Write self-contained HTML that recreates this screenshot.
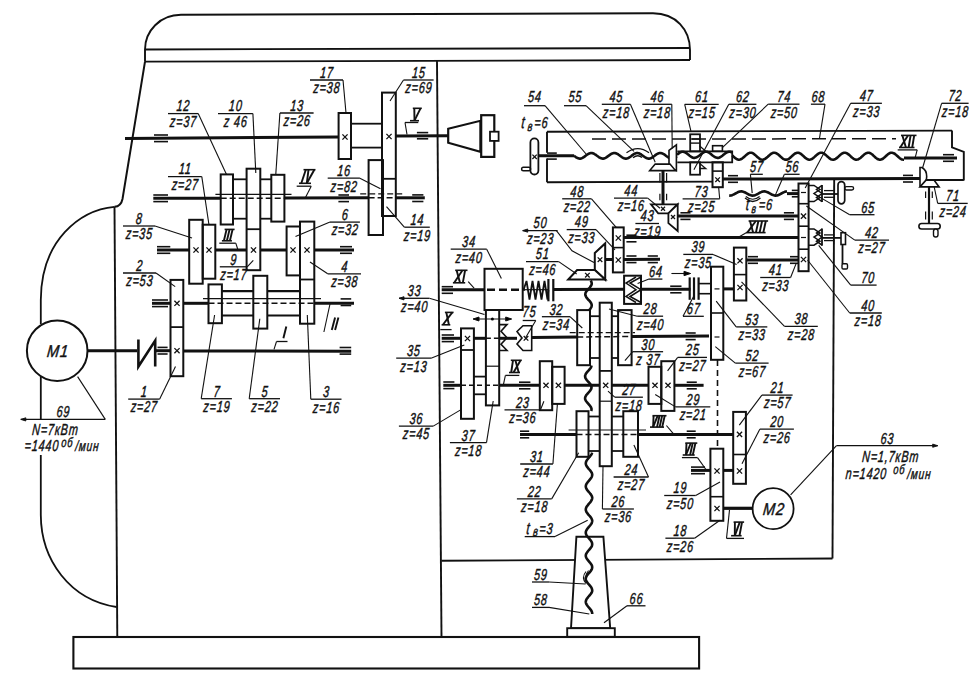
<!DOCTYPE html>
<html><head><meta charset="utf-8"><style>
html,body{margin:0;padding:0;background:#fff;}
svg{display:block;}
.t{font-family:"Liberation Sans",sans-serif;font-style:italic;fill:#111;stroke:#111;stroke-width:0.45px;letter-spacing:1.2px;}
.r{font-family:"Liberation Sans",sans-serif;font-style:italic;fill:#111;stroke:#111;stroke-width:0.45px;letter-spacing:1.2px;}
</style></head><body>
<svg width="978" height="676" viewBox="0 0 978 676">
<g stroke="#111" fill="none" stroke-linecap="butt">
<path d="M145,61.7 L145,49.5 C145,31 160,14.8 181,14.8 L653,13.3 C676,13.3 690,30 690,50 L690,60" stroke-width="1.9" fill="none"/>
<line x1="145" y1="49.5" x2="690" y2="48" stroke-width="1.8"/>
<line x1="145" y1="61.7" x2="690" y2="60" stroke-width="1.8"/>
<path d="M145,61.7 L122.5,199 C121.5,204 119,206.5 114.5,206.8" stroke-width="2.0" fill="none"/>
<line x1="114.5" y1="206.8" x2="117.3" y2="637" stroke-width="1.9"/>
<path d="M114.5,206.8 C80,210 41,240 40.8,300" stroke-width="1.8" fill="none"/>
<line x1="40.8" y1="300" x2="40.8" y2="324" stroke-width="1.8"/>
<line x1="40.8" y1="377" x2="40.8" y2="419.4" stroke-width="1.8"/>
<line x1="40.8" y1="455" x2="40.8" y2="515" stroke-width="1.8"/>
<path d="M40.8,515 C41,560 70,600 116.6,607" stroke-width="1.8" fill="none"/>
<line x1="437" y1="61" x2="441.5" y2="637" stroke-width="1.9"/>
<rect x="73.4" y="637" width="625.7" height="31.5" stroke-width="2.1" fill="none"/>
<line x1="441.5" y1="560.8" x2="832.5" y2="558.5" stroke-width="1.9"/>
<line x1="834.2" y1="178.5" x2="832.5" y2="558.5" stroke-width="1.9"/>
<line x1="547" y1="131.8" x2="952" y2="130.6" stroke-width="1.9"/>
<polyline points="952,130.6 952,147.3 963.8,151.9 963.8,180.5" stroke-width="1.9" fill="none"/>
<line x1="547" y1="182.2" x2="713" y2="181.6" stroke-width="1.9"/>
<line x1="926" y1="180" x2="963.8" y2="180" stroke-width="1.9"/>
<line x1="547" y1="131.8" x2="547" y2="152.8" stroke-width="1.9"/>
<line x1="547" y1="158.5" x2="547" y2="182.2" stroke-width="1.9"/>
<line x1="125" y1="138.4" x2="338.6" y2="137" stroke-width="3.0"/>
<line x1="395.8" y1="136" x2="448.2" y2="135.7" stroke-width="3.0"/>
<line x1="154" y1="135" x2="168" y2="135" stroke-width="1.6"/>
<line x1="154" y1="141.6" x2="168" y2="141.6" stroke-width="1.6"/>
<line x1="416.9" y1="132.6" x2="428.2" y2="132.6" stroke-width="1.6"/>
<line x1="416.9" y1="138.8" x2="428.2" y2="138.8" stroke-width="1.6"/>
<polygon points="448.2,128.8 480.4,120.8 480.4,151.7 448.2,142.7" stroke-width="2.2" fill="#fff"/>
<rect x="481.2" y="115.2" width="13.1" height="41.7" stroke-width="2.2" fill="none"/>
<rect x="490" y="131.7" width="8.6" height="9.2" stroke-width="1.8" fill="#fff"/>
<line x1="351" y1="123.7" x2="382" y2="123.7" stroke-width="1.8"/>
<line x1="351" y1="147.6" x2="382" y2="147.6" stroke-width="1.8"/>
<rect x="338.6" y="113" width="12.4" height="46" stroke-width="2.0" fill="none"/>
<line x1="342.4" y1="134.4" x2="347.6" y2="139.6" stroke-width="1.3"/>
<line x1="342.4" y1="139.6" x2="347.6" y2="134.4" stroke-width="1.3"/>
<rect x="368.6" y="160.1" width="14.4" height="74.9" stroke-width="2.0" fill="none"/>
<rect x="382" y="92.6" width="13.8" height="123.4" stroke-width="2.0" fill="none"/>
<line x1="382" y1="178.8" x2="395.8" y2="178.8" stroke-width="1.8"/>
<line x1="386.4" y1="133.9" x2="391.6" y2="139.1" stroke-width="1.3"/>
<line x1="386.4" y1="139.1" x2="391.6" y2="133.9" stroke-width="1.3"/>
<line x1="153.3" y1="198.3" x2="220.7" y2="198.3" stroke-width="3.0"/>
<line x1="220.7" y1="198.3" x2="284.4" y2="198.3" stroke-width="1.6" stroke-dasharray="6,3"/>
<line x1="284.4" y1="198" x2="368.6" y2="197.8" stroke-width="3.0"/>
<line x1="368.6" y1="197.8" x2="395.8" y2="197.8" stroke-width="1.6" stroke-dasharray="6,3"/>
<line x1="395.8" y1="197.8" x2="424.8" y2="197.8" stroke-width="3.0"/>
<line x1="153.3" y1="195" x2="168" y2="195" stroke-width="1.6"/>
<line x1="153.3" y1="201.6" x2="168" y2="201.6" stroke-width="1.6"/>
<line x1="338.4" y1="195" x2="349" y2="195" stroke-width="1.6"/>
<line x1="338.4" y1="201.6" x2="349" y2="201.6" stroke-width="1.6"/>
<line x1="412.2" y1="194.9" x2="423.4" y2="194.9" stroke-width="1.6"/>
<line x1="412.2" y1="201.5" x2="423.4" y2="201.5" stroke-width="1.6"/>
<line x1="215.4" y1="194.4" x2="291.5" y2="194.4" stroke-width="1.1"/>
<line x1="360.2" y1="193.8" x2="403.8" y2="193.8" stroke-width="1.3" stroke-dasharray="6,3"/>
<line x1="233" y1="179.3" x2="246.6" y2="179.3" stroke-width="1.8"/>
<line x1="233" y1="218.7" x2="246.6" y2="218.7" stroke-width="1.8"/>
<line x1="260.3" y1="179.3" x2="271.3" y2="179.3" stroke-width="1.8"/>
<line x1="260.3" y1="218.7" x2="271.3" y2="218.7" stroke-width="1.8"/>
<rect x="220.7" y="174.4" width="12.3" height="50.1" stroke-width="2.0" fill="none"/>
<rect x="271.3" y="174.8" width="13.1" height="46.8" stroke-width="2.0" fill="none"/>
<line x1="157" y1="250" x2="189.2" y2="250" stroke-width="3.0"/>
<line x1="215.3" y1="250" x2="246.6" y2="250" stroke-width="3.0"/>
<line x1="260.3" y1="250" x2="286.6" y2="250" stroke-width="3.0"/>
<line x1="314.3" y1="250" x2="354" y2="250" stroke-width="3.0"/>
<line x1="157" y1="246.7" x2="170.3" y2="246.7" stroke-width="1.6"/>
<line x1="157" y1="253.3" x2="170.3" y2="253.3" stroke-width="1.6"/>
<line x1="340" y1="246.7" x2="352" y2="246.7" stroke-width="1.6"/>
<line x1="340" y1="253.3" x2="352" y2="253.3" stroke-width="1.6"/>
<rect x="246.6" y="168.7" width="13.7" height="101.5" stroke-width="2.0" fill="none"/>
<line x1="246.6" y1="229.2" x2="260.3" y2="229.2" stroke-width="1.8"/>
<line x1="250.9" y1="247.4" x2="256.1" y2="252.6" stroke-width="1.3"/>
<line x1="250.9" y1="252.6" x2="256.1" y2="247.4" stroke-width="1.3"/>
<rect x="189.2" y="219.8" width="13.5" height="63.9" stroke-width="2.0" fill="none"/>
<line x1="193.4" y1="247.4" x2="198.6" y2="252.6" stroke-width="1.3"/>
<line x1="193.4" y1="252.6" x2="198.6" y2="247.4" stroke-width="1.3"/>
<rect x="202.7" y="224.7" width="12.6" height="54" stroke-width="2.0" fill="none"/>
<line x1="206.4" y1="247.4" x2="211.6" y2="252.6" stroke-width="1.3"/>
<line x1="206.4" y1="252.6" x2="211.6" y2="247.4" stroke-width="1.3"/>
<rect x="286.6" y="226.5" width="13.4" height="48.9" stroke-width="2.0" fill="none"/>
<line x1="290.4" y1="247.4" x2="295.6" y2="252.6" stroke-width="1.3"/>
<line x1="290.4" y1="252.6" x2="295.6" y2="247.4" stroke-width="1.3"/>
<line x1="152" y1="303.3" x2="170.5" y2="303.3" stroke-width="3.0"/>
<line x1="183.3" y1="303.3" x2="208.5" y2="303.3" stroke-width="3.0"/>
<line x1="208.5" y1="303.3" x2="314.3" y2="303.3" stroke-width="1.5" stroke-dasharray="6,3"/>
<line x1="314.3" y1="303.3" x2="354" y2="303.3" stroke-width="3.0"/>
<line x1="152" y1="300" x2="168" y2="300" stroke-width="1.6"/>
<line x1="152" y1="306.6" x2="168" y2="306.6" stroke-width="1.6"/>
<line x1="340.6" y1="298.9" x2="351.2" y2="298.9" stroke-width="1.6"/>
<line x1="340.6" y1="305.5" x2="351.2" y2="305.5" stroke-width="1.6"/>
<line x1="203" y1="298.6" x2="321" y2="298.6" stroke-width="1.1"/>
<line x1="221.9" y1="291.1" x2="253.3" y2="291.1" stroke-width="2.4"/>
<line x1="221.9" y1="315.5" x2="253.3" y2="315.5" stroke-width="1.8"/>
<line x1="267.3" y1="291.1" x2="300" y2="291.1" stroke-width="2.4"/>
<line x1="267.3" y1="315.5" x2="300" y2="315.5" stroke-width="1.8"/>
<rect x="208.5" y="284.4" width="13.4" height="38.8" stroke-width="2.0" fill="none"/>
<rect x="253.3" y="275.8" width="14" height="52.8" stroke-width="2.0" fill="none"/>
<rect x="300" y="221.6" width="14.3" height="102.1" stroke-width="2.0" fill="none"/>
<line x1="300" y1="279.5" x2="314.3" y2="279.5" stroke-width="1.8"/>
<line x1="304.4" y1="247.4" x2="309.6" y2="252.6" stroke-width="1.3"/>
<line x1="304.4" y1="252.6" x2="309.6" y2="247.4" stroke-width="1.3"/>
<line x1="87.5" y1="350.7" x2="137" y2="350.7" stroke-width="3.0"/>
<polyline points="138.4,339.5 138.4,366.5 155.2,340.6 155.2,366.5" stroke-width="2.6" fill="none"/>
<line x1="155.2" y1="350.7" x2="170.5" y2="350.7" stroke-width="3.0"/>
<line x1="157.5" y1="347.4" x2="167.6" y2="347.4" stroke-width="1.6"/>
<line x1="157.5" y1="354" x2="167.6" y2="354" stroke-width="1.6"/>
<line x1="183.4" y1="350.9" x2="351.2" y2="351.2" stroke-width="3.0"/>
<line x1="339.6" y1="347.5" x2="351.2" y2="347.5" stroke-width="1.6"/>
<line x1="339.6" y1="354.1" x2="351.2" y2="354.1" stroke-width="1.6"/>
<rect x="170.5" y="279.9" width="12.8" height="96.3" stroke-width="2.0" fill="none"/>
<line x1="170.5" y1="327.1" x2="183.3" y2="327.1" stroke-width="1.8"/>
<line x1="174.4" y1="300.7" x2="179.6" y2="305.9" stroke-width="1.3"/>
<line x1="174.4" y1="305.9" x2="179.6" y2="300.7" stroke-width="1.3"/>
<line x1="174.4" y1="348.1" x2="179.6" y2="353.3" stroke-width="1.3"/>
<line x1="174.4" y1="353.3" x2="179.6" y2="348.1" stroke-width="1.3"/>
<circle cx="57.2" cy="350.7" r="30.3" stroke-width="2" fill="none"/>
<text class="t" transform="translate(57.5,356.5) scale(0.85,1) skewX(-7)" font-size="17.099999999999998" text-anchor="middle">M1</text>
<line x1="168" y1="113.6" x2="198.2" y2="113.6" stroke-width="1.3"/>
<text class="t" transform="translate(183.1,111.4) scale(0.68,1) skewX(-7)" font-size="15.959999999999999" text-anchor="middle">12</text>
<text class="t" transform="translate(183.1,126.9) scale(0.68,1) skewX(-7)" font-size="15.959999999999999" text-anchor="middle">z=37</text>
<polyline points="198.2,113.6 226.5,174.4" stroke-width="1.1" fill="none"/>
<line x1="218" y1="113.6" x2="252.9" y2="113.6" stroke-width="1.3"/>
<text class="t" transform="translate(235.4,111.4) scale(0.68,1) skewX(-7)" font-size="15.959999999999999" text-anchor="middle">10</text>
<text class="t" transform="translate(235.4,126.9) scale(0.68,1) skewX(-7)" font-size="15.959999999999999" text-anchor="middle">z 46</text>
<polyline points="252.9,113.6 255.8,173" stroke-width="1.1" fill="none"/>
<line x1="279.9" y1="113" x2="313.6" y2="113" stroke-width="1.3"/>
<text class="t" transform="translate(296.8,110.8) scale(0.68,1) skewX(-7)" font-size="15.959999999999999" text-anchor="middle">13</text>
<text class="t" transform="translate(296.8,126.3) scale(0.68,1) skewX(-7)" font-size="15.959999999999999" text-anchor="middle">z=26</text>
<polyline points="279.9,113 275.8,174.4" stroke-width="1.1" fill="none"/>
<line x1="310" y1="80" x2="343" y2="80" stroke-width="1.3"/>
<text class="t" transform="translate(326.5,77.8) scale(0.68,1) skewX(-7)" font-size="15.959999999999999" text-anchor="middle">17</text>
<text class="t" transform="translate(326.5,93.3) scale(0.68,1) skewX(-7)" font-size="15.959999999999999" text-anchor="middle">z=38</text>
<polyline points="343,80 346,113" stroke-width="1.1" fill="none"/>
<line x1="403.5" y1="80" x2="433.6" y2="80" stroke-width="1.3"/>
<text class="t" transform="translate(418.6,77.8) scale(0.68,1) skewX(-7)" font-size="15.959999999999999" text-anchor="middle">15</text>
<text class="t" transform="translate(418.6,93.3) scale(0.68,1) skewX(-7)" font-size="15.959999999999999" text-anchor="middle">z=69</text>
<polyline points="403.5,80 390,101" stroke-width="1.1" fill="none"/>
<line x1="168" y1="176.6" x2="201.8" y2="176.6" stroke-width="1.3"/>
<text class="t" transform="translate(184.9,174.4) scale(0.68,1) skewX(-7)" font-size="15.959999999999999" text-anchor="middle">11</text>
<text class="t" transform="translate(184.9,189.9) scale(0.68,1) skewX(-7)" font-size="15.959999999999999" text-anchor="middle">z=27</text>
<polyline points="201.8,176.6 209,225" stroke-width="1.1" fill="none"/>
<line x1="123" y1="226" x2="155" y2="226" stroke-width="1.3"/>
<text class="t" transform="translate(139,223.8) scale(0.68,1) skewX(-7)" font-size="15.959999999999999" text-anchor="middle">8</text>
<text class="t" transform="translate(139,239.3) scale(0.68,1) skewX(-7)" font-size="15.959999999999999" text-anchor="middle">z=35</text>
<polyline points="155,226 192,238" stroke-width="1.1" fill="none"/>
<line x1="123" y1="273" x2="156" y2="273" stroke-width="1.3"/>
<text class="t" transform="translate(139.5,270.8) scale(0.68,1) skewX(-7)" font-size="15.959999999999999" text-anchor="middle">2</text>
<text class="t" transform="translate(139.5,286.3) scale(0.68,1) skewX(-7)" font-size="15.959999999999999" text-anchor="middle">z=53</text>
<polyline points="156,273 175.2,286.6" stroke-width="1.1" fill="none"/>
<line x1="327.7" y1="178.2" x2="359.9" y2="178.2" stroke-width="1.3"/>
<text class="t" transform="translate(343.8,176) scale(0.68,1) skewX(-7)" font-size="15.959999999999999" text-anchor="middle">16</text>
<text class="t" transform="translate(343.8,191.5) scale(0.68,1) skewX(-7)" font-size="15.959999999999999" text-anchor="middle">z=82</text>
<polyline points="359.9,178.2 380.5,188.8" stroke-width="1.1" fill="none"/>
<line x1="404.3" y1="227.2" x2="429.8" y2="227.2" stroke-width="1.3"/>
<text class="t" transform="translate(417.1,225) scale(0.68,1) skewX(-7)" font-size="15.959999999999999" text-anchor="middle">14</text>
<text class="t" transform="translate(417.1,240.5) scale(0.68,1) skewX(-7)" font-size="15.959999999999999" text-anchor="middle">z=19</text>
<polyline points="404.3,227.2 386.5,206.6" stroke-width="1.1" fill="none"/>
<line x1="330" y1="222.1" x2="359.9" y2="222.1" stroke-width="1.3"/>
<text class="t" transform="translate(344.9,219.9) scale(0.68,1) skewX(-7)" font-size="15.959999999999999" text-anchor="middle">6</text>
<text class="t" transform="translate(344.9,235.4) scale(0.68,1) skewX(-7)" font-size="15.959999999999999" text-anchor="middle">z=32</text>
<polyline points="330,222.1 295.5,236.6" stroke-width="1.1" fill="none"/>
<line x1="327.7" y1="273.8" x2="361" y2="273.8" stroke-width="1.3"/>
<text class="t" transform="translate(344.4,271.6) scale(0.68,1) skewX(-7)" font-size="15.959999999999999" text-anchor="middle">4</text>
<text class="t" transform="translate(344.4,287.1) scale(0.68,1) skewX(-7)" font-size="15.959999999999999" text-anchor="middle">z=38</text>
<polyline points="327.7,273.8 310,262" stroke-width="1.1" fill="none"/>
<line x1="219.8" y1="266.8" x2="247.2" y2="266.8" stroke-width="1.3"/>
<text class="t" transform="translate(233.5,264.6) scale(0.68,1) skewX(-7)" font-size="15.959999999999999" text-anchor="middle">9</text>
<text class="t" transform="translate(233.5,280.1) scale(0.68,1) skewX(-7)" font-size="15.959999999999999" text-anchor="middle">z=17</text>
<polyline points="247.2,266.8 253.3,260.3" stroke-width="1.1" fill="none"/>
<line x1="128.2" y1="399.1" x2="159.7" y2="399.1" stroke-width="1.3"/>
<text class="t" transform="translate(143.9,396.9) scale(0.68,1) skewX(-7)" font-size="15.959999999999999" text-anchor="middle">1</text>
<text class="t" transform="translate(143.9,412.4) scale(0.68,1) skewX(-7)" font-size="15.959999999999999" text-anchor="middle">z=27</text>
<polyline points="159.7,399.1 175.5,366.5" stroke-width="1.1" fill="none"/>
<line x1="201.2" y1="398.7" x2="231.9" y2="398.7" stroke-width="1.3"/>
<text class="t" transform="translate(216.6,396.5) scale(0.68,1) skewX(-7)" font-size="15.959999999999999" text-anchor="middle">7</text>
<text class="t" transform="translate(216.6,412) scale(0.68,1) skewX(-7)" font-size="15.959999999999999" text-anchor="middle">z=19</text>
<polyline points="201.2,398.7 214.6,315" stroke-width="1.1" fill="none"/>
<line x1="249.2" y1="398.7" x2="280" y2="398.7" stroke-width="1.3"/>
<text class="t" transform="translate(264.6,396.5) scale(0.68,1) skewX(-7)" font-size="15.959999999999999" text-anchor="middle">5</text>
<text class="t" transform="translate(264.6,412) scale(0.68,1) skewX(-7)" font-size="15.959999999999999" text-anchor="middle">z=22</text>
<polyline points="249.2,398.7 259.8,318.8" stroke-width="1.1" fill="none"/>
<line x1="310.8" y1="399.2" x2="341.5" y2="399.2" stroke-width="1.3"/>
<text class="t" transform="translate(326.1,397) scale(0.68,1) skewX(-7)" font-size="15.959999999999999" text-anchor="middle">3</text>
<text class="t" transform="translate(326.1,412.5) scale(0.68,1) skewX(-7)" font-size="15.959999999999999" text-anchor="middle">z=16</text>
<polyline points="310.8,399.2 307.3,315" stroke-width="1.1" fill="none"/>
<line x1="20.8" y1="419.4" x2="105.3" y2="419.4" stroke-width="1.3"/>
<text class="t" transform="translate(63,417.2) scale(0.68,1) skewX(-7)" font-size="15.959999999999999" text-anchor="middle">69</text>
<polyline points="105.3,419.4 77.6,376.6" stroke-width="1.1" fill="none"/>
<polygon points="25.8,417.8 20.8,419.4 25.8,421" stroke-width="0.9" fill="#111"/>
<text class="t" transform="translate(55,434.5) scale(0.68,1) skewX(-7)" font-size="15.959999999999999" text-anchor="middle">N=7кВт</text>
<text class="t" transform="translate(41.5,451) scale(0.68,1) skewX(-7)" font-size="15.959999999999999" text-anchor="middle">=1440</text>
<text class="t" transform="translate(67,446.5) scale(0.68,1) skewX(-7)" font-size="13.68" text-anchor="middle">об</text>
<text class="t" transform="translate(87,451) scale(0.68,1) skewX(-7)" font-size="14.819999999999999" text-anchor="middle">/мин</text>
<line x1="414.3" y1="108.3" x2="414.5" y2="120.7" stroke-width="1.9"/>
<line x1="420.5" y1="108.3" x2="414.5" y2="120.7" stroke-width="1.9"/>
<line x1="412.8" y1="108.3" x2="421.8" y2="108.3" stroke-width="1.6"/>
<line x1="410" y1="120.7" x2="419" y2="120.7" stroke-width="1.6"/>
<line x1="405" y1="122.5" x2="418.3" y2="122.5" stroke-width="1.3"/>
<polyline points="405,122.5 407,134.5" stroke-width="1.1" fill="none"/>
<line x1="305.8" y1="169.7" x2="301.3" y2="183.3" stroke-width="1.9"/>
<line x1="308.5" y1="169.7" x2="306.8" y2="183.3" stroke-width="1.9"/>
<line x1="314.3" y1="169.7" x2="306.8" y2="183.3" stroke-width="1.9"/>
<line x1="303.5" y1="169.7" x2="315.5" y2="169.7" stroke-width="1.6"/>
<line x1="299" y1="183.3" x2="311" y2="183.3" stroke-width="1.6"/>
<line x1="296.7" y1="186.2" x2="311.2" y2="186.2" stroke-width="1.3"/>
<polyline points="311.2,186.2 305.5,197.6" stroke-width="1.1" fill="none"/>
<line x1="226.6" y1="229.4" x2="223.9" y2="240.8" stroke-width="1.9"/>
<line x1="229.6" y1="229.4" x2="226.9" y2="240.8" stroke-width="1.9"/>
<line x1="232.6" y1="229.4" x2="229.9" y2="240.8" stroke-width="1.9"/>
<line x1="224.6" y1="229.4" x2="234.6" y2="229.4" stroke-width="1.6"/>
<line x1="221.9" y1="240.8" x2="231.9" y2="240.8" stroke-width="1.6"/>
<line x1="219.3" y1="243.2" x2="235.8" y2="243.2" stroke-width="1.3"/>
<polyline points="235.8,243.2 238,250" stroke-width="1.1" fill="none"/>
<line x1="335.1" y1="317.6" x2="331.8" y2="330" stroke-width="1.9"/>
<line x1="338.4" y1="317.6" x2="335.1" y2="330" stroke-width="1.9"/>
<polyline points="330,304 323.9,332" stroke-width="1.1" fill="none"/>
<line x1="286.3" y1="326.4" x2="283.4" y2="338.2" stroke-width="1.9"/>
<line x1="276.5" y1="341.5" x2="287.5" y2="341.5" stroke-width="1.3"/>
<polyline points="276.5,341.5 274,349.3" stroke-width="1.1" fill="none"/>
<line x1="441.7" y1="289.7" x2="484.5" y2="289.7" stroke-width="3.0"/>
<line x1="441.7" y1="286.7" x2="453" y2="286.7" stroke-width="1.6"/>
<line x1="441.7" y1="293.3" x2="453" y2="293.3" stroke-width="1.6"/>
<line x1="487" y1="289.7" x2="522.7" y2="289.7" stroke-width="2.4" stroke-dasharray="8,4"/>
<line x1="522.7" y1="289.7" x2="525" y2="289.7" stroke-width="2.2"/>
<polyline points="523.5,290 526.5,281 529.5,299.5 532.5,281 535.5,299.5 538.5,281 541.5,299.5 544.5,281 547.5,299.5 548.4,290" stroke-width="1.8" fill="none"/>
<line x1="525" y1="289.7" x2="548" y2="289.7" stroke-width="1.2"/>
<line x1="548.4" y1="279" x2="548.4" y2="301.3" stroke-width="2.2"/>
<line x1="553.3" y1="279" x2="553.3" y2="301.3" stroke-width="2.2"/>
<line x1="553.1" y1="289.5" x2="624.1" y2="289.3" stroke-width="3.0"/>
<line x1="641" y1="289.3" x2="690.5" y2="289.2" stroke-width="3.0"/>
<line x1="670.2" y1="286.2" x2="681.5" y2="286.2" stroke-width="1.6"/>
<line x1="670.2" y1="292.8" x2="681.5" y2="292.8" stroke-width="1.6"/>
<line x1="689.7" y1="277.4" x2="689.7" y2="299.8" stroke-width="2.2"/>
<line x1="694" y1="277.4" x2="694" y2="299.8" stroke-width="2.2"/>
<line x1="698.6" y1="277.4" x2="698.6" y2="299.8" stroke-width="2.2"/>
<line x1="698.4" y1="283.6" x2="711.2" y2="283.6" stroke-width="1.6"/>
<line x1="698.4" y1="293.7" x2="711.2" y2="293.7" stroke-width="1.6"/>
<rect x="484.5" y="268.8" width="38.2" height="41.2" stroke-width="2.0" fill="none"/>
<line x1="456.6" y1="270.3" x2="460" y2="282.8" stroke-width="1.9"/>
<line x1="462.5" y1="270.3" x2="454.2" y2="282.8" stroke-width="1.9"/>
<line x1="465.1" y1="270.3" x2="462.8" y2="282.8" stroke-width="1.9"/>
<line x1="455.2" y1="270.3" x2="467.5" y2="270.3" stroke-width="1.6"/>
<line x1="452.9" y1="282.8" x2="465.2" y2="282.8" stroke-width="1.6"/>
<polyline points="468.2,281.6 474.1,288.1" stroke-width="1.1" fill="none"/>
<line x1="450.7" y1="249.2" x2="486.7" y2="249.2" stroke-width="1.3"/>
<text class="t" transform="translate(468.7,247) scale(0.68,1) skewX(-7)" font-size="15.959999999999999" text-anchor="middle">34</text>
<text class="t" transform="translate(468.7,262.5) scale(0.68,1) skewX(-7)" font-size="15.959999999999999" text-anchor="middle">z=40</text>
<polyline points="486.7,249.2 501.4,278.5" stroke-width="1.1" fill="none"/>
<line x1="399" y1="298.3" x2="429.4" y2="298.3" stroke-width="1.3"/>
<text class="t" transform="translate(414.2,296.1) scale(0.68,1) skewX(-7)" font-size="15.959999999999999" text-anchor="middle">33</text>
<text class="t" transform="translate(414.2,311.6) scale(0.68,1) skewX(-7)" font-size="15.959999999999999" text-anchor="middle">z=40</text>
<polyline points="429.4,298.3 484.5,314.5" stroke-width="1.1" fill="none"/>
<polygon points="404,296.7 399,298.3 404,299.9" stroke-width="0.9" fill="#111"/>
<rect x="485.9" y="310" width="13.3" height="95.4" stroke-width="2.0" fill="none"/>
<line x1="485.9" y1="366.2" x2="499.2" y2="366.2" stroke-width="1.2"/>
<line x1="473.2" y1="319" x2="511.5" y2="319" stroke-width="1.1"/>
<polygon points="479,317 473.2,319 479,321" stroke-width="1" fill="#000"/>
<polygon points="505.7,317 511.5,319 505.7,321" stroke-width="1" fill="#000"/>
<circle cx="492.4" cy="319" r="1.5" fill="#000" stroke="none"/>
<line x1="446.3" y1="312.4" x2="448.9" y2="324.8" stroke-width="1.9"/>
<line x1="452.3" y1="312.4" x2="442.9" y2="324.8" stroke-width="1.9"/>
<line x1="444.9" y1="312.4" x2="453.6" y2="312.4" stroke-width="1.6"/>
<line x1="441.6" y1="324.8" x2="450.3" y2="324.8" stroke-width="1.6"/>
<line x1="440.3" y1="329.6" x2="451.6" y2="329.6" stroke-width="1.3"/>
<line x1="441.7" y1="338.3" x2="461" y2="338.3" stroke-width="3.0"/>
<line x1="441.7" y1="335" x2="454" y2="335" stroke-width="1.6"/>
<line x1="441.7" y1="341.6" x2="454" y2="341.6" stroke-width="1.6"/>
<line x1="473.9" y1="338.3" x2="485.9" y2="338.3" stroke-width="3.0"/>
<line x1="485.9" y1="338.3" x2="499.2" y2="338.3" stroke-width="1.5" stroke-dasharray="5,3"/>
<line x1="499.2" y1="338.3" x2="517" y2="338.3" stroke-width="3.0"/>
<line x1="531.7" y1="337.5" x2="577.2" y2="337" stroke-width="3.0"/>
<line x1="577.2" y1="337" x2="631.6" y2="336.5" stroke-width="1.5" stroke-dasharray="6,3"/>
<line x1="631.6" y1="336.5" x2="709" y2="336" stroke-width="3.0"/>
<line x1="685.6" y1="333" x2="695.7" y2="333" stroke-width="1.6"/>
<line x1="685.6" y1="339.6" x2="695.7" y2="339.6" stroke-width="1.6"/>
<rect x="461" y="328.4" width="12.9" height="90.4" stroke-width="2.0" fill="none"/>
<line x1="461" y1="350" x2="473.9" y2="350" stroke-width="1.8"/>
<line x1="464.9" y1="335.9" x2="470.1" y2="341.1" stroke-width="1.3"/>
<line x1="464.9" y1="341.1" x2="470.1" y2="335.9" stroke-width="1.3"/>
<polyline points="499.2,324.6 507,324.6 501,331.2 507,337.8 501,344.3 507,350.5 499.2,350.5" stroke-width="1.6" fill="none"/>
<polygon points="523,325.7 531.7,325.7 531.7,350.5 523,350.5 517,344 522,338 517,331.5" stroke-width="1.6" fill="#fff"/>
<line x1="523.7" y1="336" x2="528.3" y2="340.6" stroke-width="1.3"/>
<line x1="523.7" y1="340.6" x2="528.3" y2="336" stroke-width="1.3"/>
<line x1="522.7" y1="320.5" x2="535.8" y2="320.5" stroke-width="1.3"/>
<text class="t" transform="translate(529.2,317) scale(0.68,1) skewX(-7)" font-size="15.959999999999999" text-anchor="middle">75</text>
<polyline points="535.8,320.5 526,337" stroke-width="1.1" fill="none"/>
<line x1="541.9" y1="316.7" x2="570" y2="316.7" stroke-width="1.3"/>
<text class="t" transform="translate(556,314.5) scale(0.68,1) skewX(-7)" font-size="15.959999999999999" text-anchor="middle">32</text>
<text class="t" transform="translate(556,330) scale(0.68,1) skewX(-7)" font-size="15.959999999999999" text-anchor="middle">z=34</text>
<polyline points="570,316.7 582.3,328" stroke-width="1.1" fill="none"/>
<line x1="569.7" y1="332.6" x2="635" y2="332.6" stroke-width="1.1" stroke-dasharray="6,3"/>
<line x1="590" y1="316.2" x2="599.7" y2="316.2" stroke-width="1.8"/>
<line x1="590" y1="358" x2="599.7" y2="358" stroke-width="1.8"/>
<line x1="611.8" y1="316.2" x2="618.1" y2="316.2" stroke-width="1.8"/>
<line x1="611.8" y1="358" x2="618.1" y2="358" stroke-width="1.8"/>
<rect x="577.2" y="310.1" width="12.8" height="55.1" stroke-width="2.0" fill="none"/>
<rect x="618.1" y="310.1" width="13.5" height="55.1" stroke-width="2.0" fill="none"/>
<line x1="637.2" y1="316.2" x2="663.1" y2="316.2" stroke-width="1.3"/>
<text class="t" transform="translate(650.2,314) scale(0.68,1) skewX(-7)" font-size="15.959999999999999" text-anchor="middle">28</text>
<text class="t" transform="translate(650.2,329.5) scale(0.68,1) skewX(-7)" font-size="15.959999999999999" text-anchor="middle">z=40</text>
<polyline points="637.2,316.2 609,309" stroke-width="1.1" fill="none"/>
<line x1="632.7" y1="351.7" x2="663.1" y2="351.7" stroke-width="1.3"/>
<text class="t" transform="translate(647.9,349.5) scale(0.68,1) skewX(-7)" font-size="15.959999999999999" text-anchor="middle">30</text>
<text class="t" transform="translate(647.9,365) scale(0.68,1) skewX(-7)" font-size="15.959999999999999" text-anchor="middle">z 37</text>
<polyline points="632.7,351.7 624.9,360.7" stroke-width="1.1" fill="none"/>
<line x1="443.3" y1="385.3" x2="461" y2="385.3" stroke-width="3.0"/>
<line x1="461" y1="385.3" x2="499.2" y2="385.3" stroke-width="1.5" stroke-dasharray="5,3"/>
<line x1="443.3" y1="382" x2="454.4" y2="382" stroke-width="1.6"/>
<line x1="443.3" y1="388.6" x2="454.4" y2="388.6" stroke-width="1.6"/>
<line x1="473.9" y1="376.6" x2="485.9" y2="376.6" stroke-width="1.8"/>
<line x1="473.9" y1="394.3" x2="485.9" y2="394.3" stroke-width="1.8"/>
<line x1="499.2" y1="385.3" x2="539.8" y2="385.3" stroke-width="3.0"/>
<line x1="564.6" y1="385.3" x2="599.7" y2="385.3" stroke-width="3.0"/>
<line x1="611.8" y1="385.3" x2="648.5" y2="385.3" stroke-width="3.0"/>
<line x1="674.4" y1="385.3" x2="703.6" y2="385.3" stroke-width="3.0"/>
<line x1="519" y1="382.2" x2="530.4" y2="382.2" stroke-width="1.6"/>
<line x1="519" y1="388.8" x2="530.4" y2="388.8" stroke-width="1.6"/>
<line x1="686.7" y1="382.2" x2="696.8" y2="382.2" stroke-width="1.6"/>
<line x1="686.7" y1="388.8" x2="696.8" y2="388.8" stroke-width="1.6"/>
<rect x="539.8" y="361.2" width="12.4" height="49" stroke-width="2.0" fill="none"/>
<line x1="543.4" y1="382.7" x2="548.6" y2="387.9" stroke-width="1.3"/>
<line x1="543.4" y1="387.9" x2="548.6" y2="382.7" stroke-width="1.3"/>
<rect x="552.2" y="366.8" width="12.4" height="37.1" stroke-width="2.0" fill="none"/>
<line x1="555.8" y1="382.7" x2="561" y2="387.9" stroke-width="1.3"/>
<line x1="555.8" y1="387.9" x2="561" y2="382.7" stroke-width="1.3"/>
<rect x="648.5" y="366.8" width="12.8" height="37.1" stroke-width="2.0" fill="none"/>
<line x1="652.4" y1="382.7" x2="657.6" y2="387.9" stroke-width="1.3"/>
<line x1="652.4" y1="387.9" x2="657.6" y2="382.7" stroke-width="1.3"/>
<rect x="661.3" y="361.2" width="13.1" height="49.7" stroke-width="2.0" fill="none"/>
<line x1="665.4" y1="382.7" x2="670.6" y2="387.9" stroke-width="1.3"/>
<line x1="665.4" y1="387.9" x2="670.6" y2="382.7" stroke-width="1.3"/>
<line x1="513" y1="360.3" x2="511.2" y2="372.5" stroke-width="1.9"/>
<line x1="515.4" y1="360.3" x2="518.7" y2="372.5" stroke-width="1.9"/>
<line x1="520.6" y1="360.3" x2="513.5" y2="372.5" stroke-width="1.9"/>
<line x1="510.8" y1="360.3" x2="521.8" y2="360.3" stroke-width="1.6"/>
<line x1="509" y1="372.5" x2="520" y2="372.5" stroke-width="1.6"/>
<line x1="505.4" y1="375.4" x2="519.3" y2="375.4" stroke-width="1.3"/>
<polyline points="505.4,375.4 503.3,385.2" stroke-width="1.1" fill="none"/>
<line x1="396.2" y1="358.2" x2="431" y2="358.2" stroke-width="1.3"/>
<text class="t" transform="translate(413.6,356) scale(0.68,1) skewX(-7)" font-size="15.959999999999999" text-anchor="middle">35</text>
<text class="t" transform="translate(413.6,371.5) scale(0.68,1) skewX(-7)" font-size="15.959999999999999" text-anchor="middle">z=13</text>
<polyline points="431,358.2 464.3,344.9" stroke-width="1.1" fill="none"/>
<line x1="398.9" y1="426.1" x2="433.3" y2="426.1" stroke-width="1.3"/>
<text class="t" transform="translate(416.1,423.9) scale(0.68,1) skewX(-7)" font-size="15.959999999999999" text-anchor="middle">36</text>
<text class="t" transform="translate(416.1,439.4) scale(0.68,1) skewX(-7)" font-size="15.959999999999999" text-anchor="middle">z=45</text>
<polyline points="433.3,426.1 460.6,409.9" stroke-width="1.1" fill="none"/>
<line x1="449.9" y1="442.7" x2="486.5" y2="442.7" stroke-width="1.3"/>
<text class="t" transform="translate(468.2,440.5) scale(0.68,1) skewX(-7)" font-size="15.959999999999999" text-anchor="middle">37</text>
<text class="t" transform="translate(468.2,456) scale(0.68,1) skewX(-7)" font-size="15.959999999999999" text-anchor="middle">z=18</text>
<polyline points="486.5,442.7 493.2,401" stroke-width="1.1" fill="none"/>
<line x1="504.5" y1="409.8" x2="540.5" y2="409.8" stroke-width="1.3"/>
<text class="t" transform="translate(522.5,407.6) scale(0.68,1) skewX(-7)" font-size="15.959999999999999" text-anchor="middle">23</text>
<text class="t" transform="translate(522.5,423.1) scale(0.68,1) skewX(-7)" font-size="15.959999999999999" text-anchor="middle">z=36</text>
<polyline points="540.5,409.8 543.9,401.2" stroke-width="1.1" fill="none"/>
<line x1="614.7" y1="397.2" x2="642.9" y2="397.2" stroke-width="1.3"/>
<text class="t" transform="translate(628.8,395) scale(0.68,1) skewX(-7)" font-size="15.959999999999999" text-anchor="middle">27</text>
<text class="t" transform="translate(628.8,410.5) scale(0.68,1) skewX(-7)" font-size="15.959999999999999" text-anchor="middle">z=18</text>
<polyline points="614.7,397.2 608,391.1" stroke-width="1.1" fill="none"/>
<line x1="677.7" y1="357.4" x2="707" y2="357.4" stroke-width="1.3"/>
<text class="t" transform="translate(692.4,355.2) scale(0.68,1) skewX(-7)" font-size="15.959999999999999" text-anchor="middle">25</text>
<text class="t" transform="translate(692.4,370.7) scale(0.68,1) skewX(-7)" font-size="15.959999999999999" text-anchor="middle">z=27</text>
<polyline points="677.7,357.4 667.6,370.9" stroke-width="1.1" fill="none"/>
<line x1="675.5" y1="406.9" x2="710.3" y2="406.9" stroke-width="1.3"/>
<text class="t" transform="translate(692.9,404.7) scale(0.68,1) skewX(-7)" font-size="15.959999999999999" text-anchor="middle">29</text>
<text class="t" transform="translate(692.9,420.2) scale(0.68,1) skewX(-7)" font-size="15.959999999999999" text-anchor="middle">z=21</text>
<polyline points="675.5,406.9 655.2,394.5" stroke-width="1.1" fill="none"/>
<line x1="520" y1="434.4" x2="576.5" y2="434.4" stroke-width="3.0"/>
<line x1="638" y1="434.4" x2="733.2" y2="434.4" stroke-width="3.0"/>
<line x1="520" y1="431.2" x2="529.2" y2="431.2" stroke-width="1.6"/>
<line x1="520" y1="437.8" x2="529.2" y2="437.8" stroke-width="1.6"/>
<line x1="686.7" y1="431.2" x2="695.7" y2="431.2" stroke-width="1.6"/>
<line x1="686.7" y1="437.8" x2="695.7" y2="437.8" stroke-width="1.6"/>
<line x1="588.5" y1="416.5" x2="599.7" y2="416.5" stroke-width="1.8"/>
<line x1="588.5" y1="451" x2="599.7" y2="451" stroke-width="1.8"/>
<line x1="611.8" y1="416.5" x2="623.3" y2="416.5" stroke-width="1.8"/>
<line x1="611.8" y1="451" x2="623.3" y2="451" stroke-width="1.8"/>
<rect x="576.5" y="411.2" width="12" height="45.6" stroke-width="2.0" fill="none"/>
<rect x="623.3" y="411.2" width="14.7" height="45.6" stroke-width="2.0" fill="none"/>
<line x1="568.6" y1="430" x2="646" y2="430" stroke-width="1.0"/>
<line x1="576.5" y1="434.4" x2="638" y2="434.4" stroke-width="1.5" stroke-dasharray="6,3"/>
<rect x="599.7" y="302.7" width="12.1" height="163.5" stroke-width="2.0" fill="none"/>
<line x1="599.7" y1="370.9" x2="611.8" y2="370.9" stroke-width="1.8"/>
<line x1="599.7" y1="401.2" x2="611.8" y2="401.2" stroke-width="1.2"/>
<line x1="603.1" y1="382.7" x2="608.3" y2="387.9" stroke-width="1.3"/>
<line x1="603.1" y1="387.9" x2="608.3" y2="382.7" stroke-width="1.3"/>
<line x1="520.2" y1="464" x2="552.9" y2="464" stroke-width="1.3"/>
<text class="t" transform="translate(536.5,461.8) scale(0.68,1) skewX(-7)" font-size="15.959999999999999" text-anchor="middle">31</text>
<text class="t" transform="translate(536.5,477.3) scale(0.68,1) skewX(-7)" font-size="15.959999999999999" text-anchor="middle">z=44</text>
<polyline points="552.9,464 557.4,403.9" stroke-width="1.1" fill="none"/>
<line x1="516.9" y1="498.9" x2="551.7" y2="498.9" stroke-width="1.3"/>
<text class="t" transform="translate(534.3,496.7) scale(0.68,1) skewX(-7)" font-size="15.959999999999999" text-anchor="middle">22</text>
<text class="t" transform="translate(534.3,512.2) scale(0.68,1) skewX(-7)" font-size="15.959999999999999" text-anchor="middle">z=18</text>
<polyline points="551.7,498.9 578.7,452.7" stroke-width="1.1" fill="none"/>
<line x1="613.6" y1="477" x2="648.5" y2="477" stroke-width="1.3"/>
<text class="t" transform="translate(631,474.8) scale(0.68,1) skewX(-7)" font-size="15.959999999999999" text-anchor="middle">24</text>
<text class="t" transform="translate(631,490.3) scale(0.68,1) skewX(-7)" font-size="15.959999999999999" text-anchor="middle">z=27</text>
<polyline points="648.5,477 633.9,444.9" stroke-width="1.1" fill="none"/>
<line x1="602.4" y1="509" x2="633.9" y2="509" stroke-width="1.3"/>
<text class="t" transform="translate(618.1,506.8) scale(0.68,1) skewX(-7)" font-size="15.959999999999999" text-anchor="middle">26</text>
<text class="t" transform="translate(618.1,522.3) scale(0.68,1) skewX(-7)" font-size="15.959999999999999" text-anchor="middle">z=36</text>
<polyline points="602.4,509 603,466.2" stroke-width="1.1" fill="none"/>
<line x1="653.6" y1="415.7" x2="653.1" y2="427.1" stroke-width="1.9"/>
<line x1="657.7" y1="415.7" x2="653.1" y2="427.1" stroke-width="1.9"/>
<line x1="659.5" y1="415.7" x2="657" y2="427.1" stroke-width="1.9"/>
<line x1="662.1" y1="415.7" x2="659.6" y2="427.1" stroke-width="1.9"/>
<line x1="664.7" y1="415.7" x2="662.2" y2="427.1" stroke-width="1.9"/>
<line x1="652.5" y1="415.7" x2="666.5" y2="415.7" stroke-width="1.6"/>
<line x1="650" y1="427.1" x2="664" y2="427.1" stroke-width="1.6"/>
<polyline points="666.4,425.5 673.1,433.3" stroke-width="1.1" fill="none"/>
<polygon points="594.8,253 605.2,243.4 605.2,279.6 594.8,270" stroke-width="2.0" fill="#fff"/>
<line x1="597.7" y1="257.4" x2="602.3" y2="262" stroke-width="1.3"/>
<line x1="597.7" y1="262" x2="602.3" y2="257.4" stroke-width="1.3"/>
<polygon points="568.2,279.6 605.2,279.6 594.8,270 577.1,270" stroke-width="2.0" fill="#fff"/>
<line x1="585.1" y1="272.9" x2="589.7" y2="277.5" stroke-width="1.3"/>
<line x1="585.1" y1="277.5" x2="589.7" y2="272.9" stroke-width="1.3"/>
<polyline points="590.7,280.5 591.1,281.2 591.4,281.9 591.6,282.6 591.7,283.3 591.7,284 591.5,284.7 591.2,285.4 590.8,286.1 590.3,286.8 589.8,287.5 589.2,288.2 588.5,288.9 587.9,289.6 587.3,290.3 586.7,291 586.2,291.7 585.8,292.4 585.5,293.1 585.4,293.8 585.3,294.5 585.4,295.2 585.6,295.8 585.9,296.5 586.3,297.2 586.8,297.9 587.4,298.6 588,299.3 588.6,300 589.3,300.7 589.9,301.4 590.4,302.1 590.9,302.8 591.3,303.5 591.5,304.2 591.7,304.9 591.7,305.6 591.6,306.3 591.4,307 591,307.7 590.6,308.4 590.1,309.1 589.5,309.8 588.9,310.5" stroke-width="2.6" fill="none"/>
<polyline points="591.5,365.5 591.4,366.2 591.2,366.9 590.9,367.6 590.4,368.3 589.9,368.9 589.3,369.6 588.7,370.3 588.1,371 587.5,371.7 586.9,372.4 586.4,373.1 585.9,373.8 585.5,374.5 585.3,375.2 585.1,375.8 585.1,376.5 585.2,377.2 585.4,377.9 585.8,378.6 586.2,379.3 586.7,380 587.3,380.7 587.9,381.4 588.5,382 589.1,382.7 589.7,383.4 590.3,384.1 590.7,384.8 591.1,385.5 591.3,386.2 591.5,386.9 591.5,387.6 591.4,388.2 591.2,388.9 590.8,389.6 590.4,390.3 589.9,391 589.3,391.7 588.7,392.4 588,393.1 587.4,393.8 586.8,394.5 586.3,395.1 585.9,395.8 585.5,396.5 585.3,397.2 585.1,397.9 585.1,398.6 585.2,399.3 585.5,400 585.8,400.7 586.2,401.3 586.8,402 587.3,402.7 588,403.4 588.6,404.1 589.2,404.8 589.8,405.5 590.3,406.2 590.8,406.9 591.1,407.6 591.4,408.2 591.5,408.9 591.5,409.6 591.4,410.3 591.1,411" stroke-width="2.6" fill="none"/>
<polygon points="576.4,536.8 603.4,536.8 610.2,628.2 571,628.2" stroke-width="1.9" fill="#fff"/>
<rect x="567.2" y="628.2" width="47.6" height="8.6" stroke-width="1.9" fill="#fff"/>
<polyline points="592.1,452.7 591.9,453.4 591.6,454.1 591.2,454.8 590.7,455.5 590.1,456.2 589.6,456.9 588.9,457.6 588.3,458.3 587.8,459 587.2,459.7 586.8,460.4 586.4,461.1 586.1,461.8 585.9,462.5 585.8,463.2 585.8,463.9 586,464.6 586.2,465.3 586.6,466 587,466.7 587.6,467.4 588.1,468.1 588.7,468.8 589.3,469.5 589.9,470.2 590.5,470.9 591,471.6 591.4,472.3 591.8,472.9 592,473.6 592.2,474.3 592.2,475 592.1,475.7 591.9,476.4 591.6,477.1 591.2,477.8 590.7,478.5 590.2,479.2 589.6,479.9 589,480.6 588.4,481.3 587.8,482 587.3,482.7 586.8,483.4 586.4,484.1 586.1,484.8 585.9,485.5 585.8,486.2 585.8,486.9 586,487.6 586.2,488.3 586.6,489 587,489.7 587.5,490.4 588.1,491.1 588.7,491.8 589.3,492.5 589.9,493.2 590.4,493.9 591,494.6 591.4,495.3 591.8,496 592,496.7 592.2,497.4 592.2,498.1 592.1,498.8 591.9,499.5 591.6,500.2 591.2,500.9 590.8,501.6 590.2,502.3 589.6,503 589,503.7 588.4,504.4 587.9,505.1 587.3,505.8 586.8,506.5 586.4,507.2 586.1,507.9 585.9,508.6 585.8,509.3 585.8,510 586,510.7 586.2,511.4 586.5,512.1 587,512.8 587.5,513.4 588,514.1 588.6,514.8 589.2,515.5 589.8,516.2 590.4,516.9 590.9,517.6 591.4,518.3 591.7,519 592,519.7 592.2,520.4 592.2,521.1 592.1,521.8 591.9,522.5 591.7,523.2 591.3,523.9 590.8,524.6 590.3,525.3 589.7,526 589.1,526.7 588.5,527.4 587.9,528.1 587.4,528.8 586.9,529.5 586.5,530.2 586.1,530.9 585.9,531.6 585.8,532.3 585.8,533 585.9,533.7 586.2,534.4 586.5,535.1 586.9,535.8 587.4,536.5 588,537.2 588.6,537.9 589.2,538.6 589.8,539.3 590.4,540 590.9,540.7 591.3,541.4 591.7,542.1 592,542.8 592.1,543.5 592.2,544.2 592.1,544.9 592,545.6 591.7,546.3 591.3,547 590.8,547.7 590.3,548.4 589.7,549.1 589.1,549.8 588.5,550.5 587.9,551.2 587.4,551.9 586.9,552.6 586.5,553.3 586.2,553.9 585.9,554.6 585.8,555.3 585.8,556 585.9,556.7 586.2,557.4 586.5,558.1 586.9,558.8 587.4,559.5 587.9,560.2 588.5,560.9 589.1,561.6 589.7,562.3 590.3,563 590.8,563.7 591.3,564.4 591.7,565.1 592,565.8 592.1,566.5 592.2,567.2 592.1,567.9 592,568.6 591.7,569.3 591.3,570 590.9,570.7 590.4,571.4 589.8,572.1 589.2,572.8 588.6,573.5 588,574.2 587.4,574.9 586.9,575.6 586.5,576.3 586.2,577 585.9,577.7 585.8,578.4 585.8,579.1 585.9,579.8 586.1,580.5 586.4,581.2 586.9,581.9 587.3,582.6 587.9,583.3 588.5,584 589.1,584.7 589.7,585.4 590.3,586.1 590.8,586.8 591.3,587.5 591.7,588.2 591.9,588.9 592.1,589.6 592.2,590.3 592.2,591 592,591.7 591.7,592.4 591.4,593.1 590.9,593.8 590.4,594.4 589.8,595.1 589.2,595.8 588.6,596.5 588,597.2 587.5,597.9 587,598.6 586.5,599.3 586.2,600 586,600.7 585.8,601.4 585.8,602.1 585.9,602.8 586.1,603.5 586.4,604.2 586.8,604.9 587.3,605.6 587.8,606.3 588.4,607 589,607.7 589.6,608.4 590.2,609.1 590.8,609.8 591.2,610.5 591.6,611.2 591.9,611.9 592.1,612.6 592.2,613.3 592.2,614" stroke-width="2.6" fill="none"/>
<path d="M586,571.5 Q581,577.5 586,583.5 M588.5,570.5 Q583,577.5 588.5,584.5" stroke-width="1.1" fill="none"/>
<line x1="524.7" y1="536.6" x2="555" y2="536.6" stroke-width="1.3"/>
<polyline points="555,536.6 587.7,520.2" stroke-width="1.1" fill="none"/>
<text class="t" transform="translate(528,533.5) scale(0.68,1) skewX(-7)" font-size="17.099999999999998" text-anchor="middle">t</text>
<text class="t" transform="translate(535.5,536) scale(0.68,1) skewX(-7)" font-size="13.68" text-anchor="middle">в</text>
<text class="t" transform="translate(546,533.5) scale(0.68,1) skewX(-7)" font-size="15.959999999999999" text-anchor="middle">=3</text>
<line x1="532" y1="582" x2="549" y2="582" stroke-width="1.3"/>
<text class="t" transform="translate(540.5,579.8) scale(0.68,1) skewX(-7)" font-size="15.959999999999999" text-anchor="middle">59</text>
<polyline points="549,582 585.6,584" stroke-width="1.1" fill="none"/>
<line x1="532" y1="607.4" x2="549" y2="607.4" stroke-width="1.3"/>
<text class="t" transform="translate(540.5,605.2) scale(0.68,1) skewX(-7)" font-size="15.959999999999999" text-anchor="middle">58</text>
<polyline points="549,607.4 589.3,614" stroke-width="1.1" fill="none"/>
<line x1="627" y1="605.8" x2="645.5" y2="605.8" stroke-width="1.3"/>
<text class="t" transform="translate(636.2,603.6) scale(0.68,1) skewX(-7)" font-size="15.959999999999999" text-anchor="middle">66</text>
<polyline points="627,605.8 604,622.7" stroke-width="1.1" fill="none"/>
<line x1="623.7" y1="237.5" x2="798.5" y2="237.5" stroke-width="3.0"/>
<line x1="626.4" y1="235.2" x2="636.5" y2="235.2" stroke-width="1.6"/>
<line x1="626.4" y1="241.8" x2="636.5" y2="241.8" stroke-width="1.6"/>
<line x1="605.2" y1="259.5" x2="612.9" y2="259.5" stroke-width="3.0"/>
<line x1="623.7" y1="259.5" x2="660" y2="259.3" stroke-width="3.0"/>
<line x1="626.4" y1="256" x2="636.5" y2="256" stroke-width="1.6"/>
<line x1="626.4" y1="262.6" x2="636.5" y2="262.6" stroke-width="1.6"/>
<line x1="647.7" y1="256" x2="657.9" y2="256" stroke-width="1.6"/>
<line x1="647.7" y1="262.6" x2="657.9" y2="262.6" stroke-width="1.6"/>
<rect x="612.9" y="227.4" width="10.8" height="45" stroke-width="2.0" fill="none"/>
<line x1="612.9" y1="247.6" x2="623.7" y2="247.6" stroke-width="1.6"/>
<line x1="615.7" y1="235.4" x2="620.9" y2="240.6" stroke-width="1.3"/>
<line x1="615.7" y1="240.6" x2="620.9" y2="235.4" stroke-width="1.3"/>
<line x1="615.7" y1="257.4" x2="620.9" y2="262.6" stroke-width="1.3"/>
<line x1="615.7" y1="262.6" x2="620.9" y2="257.4" stroke-width="1.3"/>
<line x1="562.2" y1="198.8" x2="591.5" y2="198.8" stroke-width="1.3"/>
<text class="t" transform="translate(576.9,196.6) scale(0.68,1) skewX(-7)" font-size="15.959999999999999" text-anchor="middle">48</text>
<text class="t" transform="translate(576.9,212.1) scale(0.68,1) skewX(-7)" font-size="15.959999999999999" text-anchor="middle">z=22</text>
<polyline points="591.5,198.8 616.2,227.4" stroke-width="1.1" fill="none"/>
<line x1="566.7" y1="229.6" x2="596" y2="229.6" stroke-width="1.3"/>
<text class="t" transform="translate(581.4,227.4) scale(0.68,1) skewX(-7)" font-size="15.959999999999999" text-anchor="middle">49</text>
<text class="t" transform="translate(581.4,242.9) scale(0.68,1) skewX(-7)" font-size="15.959999999999999" text-anchor="middle">z=33</text>
<polyline points="596,229.6 615,249.9" stroke-width="1.1" fill="none"/>
<line x1="522.7" y1="230.6" x2="557.6" y2="230.6" stroke-width="1.3"/>
<text class="t" transform="translate(540.2,228.4) scale(0.68,1) skewX(-7)" font-size="15.959999999999999" text-anchor="middle">50</text>
<text class="t" transform="translate(540.2,243.9) scale(0.68,1) skewX(-7)" font-size="15.959999999999999" text-anchor="middle">z=23</text>
<polyline points="556.4,230.6 572,250.8 594,262.6" stroke-width="1.1" fill="none"/>
<polygon points="527.7,229 522.7,230.6 527.7,232.2" stroke-width="0.9" fill="#111"/>
<line x1="526" y1="261.6" x2="558.7" y2="261.6" stroke-width="1.3"/>
<text class="t" transform="translate(542.4,259.4) scale(0.68,1) skewX(-7)" font-size="15.959999999999999" text-anchor="middle">51</text>
<text class="t" transform="translate(542.4,274.9) scale(0.68,1) skewX(-7)" font-size="15.959999999999999" text-anchor="middle">z=46</text>
<polyline points="558.7,261.6 576.7,274" stroke-width="1.1" fill="none"/>
<line x1="750" y1="221" x2="753.1" y2="232.6" stroke-width="1.9"/>
<line x1="755.8" y1="221" x2="747.3" y2="232.6" stroke-width="1.9"/>
<line x1="758.4" y1="221" x2="755.9" y2="232.6" stroke-width="1.9"/>
<line x1="762.1" y1="221" x2="759.6" y2="232.6" stroke-width="1.9"/>
<line x1="765.8" y1="221" x2="763.3" y2="232.6" stroke-width="1.9"/>
<line x1="748.6" y1="221" x2="768.1" y2="221" stroke-width="1.6"/>
<line x1="746.1" y1="232.6" x2="765.6" y2="232.6" stroke-width="1.6"/>
<polyline points="746.6,232.6 738,237.5" stroke-width="1.1" fill="none"/>
<rect x="624.1" y="275.7" width="16.9" height="28.2" stroke-width="2.0" fill="none"/>
<polyline points="641,277 630,283 641,289.7 630,296.5 641,302.5" stroke-width="1.5" fill="none"/>
<polyline points="636,277 626,283 636,289.7 626,296.5 636,302.5" stroke-width="1.5" fill="none"/>
<line x1="648.9" y1="279.1" x2="662.4" y2="279.1" stroke-width="1.3"/>
<text class="t" transform="translate(655.6,276.9) scale(0.68,1) skewX(-7)" font-size="15.959999999999999" text-anchor="middle">64</text>
<polyline points="649,279.1 637.6,283.6" stroke-width="1.1" fill="none"/>
<line x1="671.4" y1="273.5" x2="690.5" y2="273.5" stroke-width="1.1"/>
<polygon points="684,271.3 690.5,273.5 684,275.7" stroke-width="1" fill="#000"/>
<line x1="683" y1="316.3" x2="703.8" y2="316.3" stroke-width="1.3"/>
<text class="t" transform="translate(693.4,313.7) scale(0.68,1) skewX(-7)" font-size="15.959999999999999" text-anchor="middle">67</text>
<polyline points="683,316.3 694,295.8" stroke-width="1.1" fill="none"/>
<rect x="711" y="266.7" width="12.3" height="93.1" stroke-width="2.0" fill="none"/>
<line x1="711" y1="313" x2="723.3" y2="313" stroke-width="1.6"/>
<line x1="714.5" y1="288.9" x2="719.5" y2="288.9" stroke-width="1.2"/>
<line x1="714.5" y1="337" x2="719.5" y2="337" stroke-width="1.2"/>
<line x1="723.3" y1="288.9" x2="734" y2="288.9" stroke-width="3.0"/>
<rect x="733.9" y="247.6" width="12.4" height="52.9" stroke-width="2.0" fill="none"/>
<line x1="733.9" y1="274.6" x2="746.3" y2="274.6" stroke-width="1.6"/>
<line x1="737.4" y1="258.2" x2="742.6" y2="263.4" stroke-width="1.3"/>
<line x1="737.4" y1="263.4" x2="742.6" y2="258.2" stroke-width="1.3"/>
<line x1="737.4" y1="284.9" x2="742.6" y2="290.1" stroke-width="1.3"/>
<line x1="737.4" y1="290.1" x2="742.6" y2="284.9" stroke-width="1.3"/>
<line x1="746.3" y1="260" x2="798.5" y2="260" stroke-width="3.0"/>
<line x1="747.9" y1="256.7" x2="758" y2="256.7" stroke-width="1.6"/>
<line x1="747.9" y1="263.3" x2="758" y2="263.3" stroke-width="1.6"/>
<line x1="790" y1="256.7" x2="798.5" y2="256.7" stroke-width="1.6"/>
<line x1="790" y1="263.3" x2="798.5" y2="263.3" stroke-width="1.6"/>
<line x1="683.3" y1="254.4" x2="713" y2="254.4" stroke-width="1.3"/>
<text class="t" transform="translate(698.1,252.2) scale(0.68,1) skewX(-7)" font-size="15.959999999999999" text-anchor="middle">39</text>
<text class="t" transform="translate(698.1,267.7) scale(0.68,1) skewX(-7)" font-size="15.959999999999999" text-anchor="middle">z=35</text>
<polyline points="713,254.4 736.6,264.5" stroke-width="1.1" fill="none"/>
<line x1="736.2" y1="326.9" x2="767.3" y2="326.9" stroke-width="1.3"/>
<text class="t" transform="translate(751.8,324.7) scale(0.68,1) skewX(-7)" font-size="15.959999999999999" text-anchor="middle">53</text>
<text class="t" transform="translate(751.8,340.2) scale(0.68,1) skewX(-7)" font-size="15.959999999999999" text-anchor="middle">z=33</text>
<polyline points="736.2,326.9 716.2,301.1" stroke-width="1.1" fill="none"/>
<line x1="784.5" y1="326.3" x2="817.8" y2="326.3" stroke-width="1.3"/>
<text class="t" transform="translate(801.1,324.1) scale(0.68,1) skewX(-7)" font-size="15.959999999999999" text-anchor="middle">38</text>
<text class="t" transform="translate(801.1,339.6) scale(0.68,1) skewX(-7)" font-size="15.959999999999999" text-anchor="middle">z=28</text>
<polyline points="784.5,326.3 741.5,281.8" stroke-width="1.1" fill="none"/>
<line x1="735.3" y1="363.2" x2="768.6" y2="363.2" stroke-width="1.3"/>
<text class="t" transform="translate(752,361) scale(0.68,1) skewX(-7)" font-size="15.959999999999999" text-anchor="middle">52</text>
<text class="t" transform="translate(752,376.5) scale(0.68,1) skewX(-7)" font-size="15.959999999999999" text-anchor="middle">z=67</text>
<polyline points="735.3,363.2 715.3,346.6" stroke-width="1.1" fill="none"/>
<line x1="717.5" y1="360" x2="717.5" y2="448.7" stroke-width="1.6" stroke-dasharray="6,4"/>
<line x1="686.5" y1="443.1" x2="686" y2="455" stroke-width="1.9"/>
<line x1="690.8" y1="443.1" x2="686" y2="455" stroke-width="1.9"/>
<line x1="692.7" y1="443.1" x2="690.1" y2="455" stroke-width="1.9"/>
<line x1="695.4" y1="443.1" x2="692.8" y2="455" stroke-width="1.9"/>
<line x1="685.3" y1="443.1" x2="697.3" y2="443.1" stroke-width="1.6"/>
<line x1="682.7" y1="455" x2="694.7" y2="455" stroke-width="1.6"/>
<line x1="681.9" y1="457.6" x2="697.5" y2="457.6" stroke-width="1.3"/>
<polyline points="697.5,457.6 706.3,470" stroke-width="1.1" fill="none"/>
<line x1="691" y1="470.4" x2="710.4" y2="470.4" stroke-width="3.0"/>
<line x1="723.3" y1="470.4" x2="733.2" y2="470.4" stroke-width="3.0"/>
<line x1="691" y1="467.1" x2="705" y2="467.1" stroke-width="1.6"/>
<line x1="691" y1="473.7" x2="705" y2="473.7" stroke-width="1.6"/>
<rect x="710.4" y="448.7" width="12.9" height="72.1" stroke-width="2.0" fill="none"/>
<line x1="710.4" y1="496.7" x2="723.3" y2="496.7" stroke-width="1.6"/>
<line x1="714.4" y1="468.4" x2="719.6" y2="473.6" stroke-width="1.3"/>
<line x1="714.4" y1="473.6" x2="719.6" y2="468.4" stroke-width="1.3"/>
<line x1="714.4" y1="505.9" x2="719.6" y2="511.1" stroke-width="1.3"/>
<line x1="714.4" y1="511.1" x2="719.6" y2="505.9" stroke-width="1.3"/>
<rect x="733.2" y="411.9" width="12.7" height="71.9" stroke-width="2.0" fill="none"/>
<line x1="733.2" y1="454.5" x2="745.9" y2="454.5" stroke-width="1.6"/>
<line x1="736.9" y1="431.8" x2="742.1" y2="437" stroke-width="1.3"/>
<line x1="736.9" y1="437" x2="742.1" y2="431.8" stroke-width="1.3"/>
<line x1="736.9" y1="468.4" x2="742.1" y2="473.6" stroke-width="1.3"/>
<line x1="736.9" y1="473.6" x2="742.1" y2="468.4" stroke-width="1.3"/>
<line x1="723.3" y1="508.3" x2="752.7" y2="508.3" stroke-width="3.2"/>
<circle cx="773.1" cy="508.7" r="20.5" stroke-width="1.8" fill="none"/>
<text class="t" transform="translate(773.5,514.5) scale(0.85,1) skewX(-7)" font-size="17.099999999999998" text-anchor="middle">M2</text>
<line x1="734.9" y1="522.1" x2="734.8" y2="535.7" stroke-width="1.9"/>
<line x1="739.8" y1="522.1" x2="734.8" y2="535.7" stroke-width="1.9"/>
<line x1="742" y1="522.1" x2="739.5" y2="535.7" stroke-width="1.9"/>
<line x1="733.6" y1="522.1" x2="744.1" y2="522.1" stroke-width="1.6"/>
<line x1="731.1" y1="535.7" x2="741.6" y2="535.7" stroke-width="1.6"/>
<line x1="726.5" y1="538.4" x2="744" y2="538.4" stroke-width="1.3"/>
<polyline points="726.5,538.4 729.5,510" stroke-width="1.1" fill="none"/>
<line x1="664.2" y1="495.5" x2="695.7" y2="495.5" stroke-width="1.3"/>
<text class="t" transform="translate(680,493.3) scale(0.68,1) skewX(-7)" font-size="15.959999999999999" text-anchor="middle">19</text>
<text class="t" transform="translate(680,508.8) scale(0.68,1) skewX(-7)" font-size="15.959999999999999" text-anchor="middle">z=50</text>
<polyline points="695.7,495.5 720,482" stroke-width="1.1" fill="none"/>
<line x1="665.4" y1="538.2" x2="694.6" y2="538.2" stroke-width="1.3"/>
<text class="t" transform="translate(680,536) scale(0.68,1) skewX(-7)" font-size="15.959999999999999" text-anchor="middle">18</text>
<text class="t" transform="translate(680,551.5) scale(0.68,1) skewX(-7)" font-size="15.959999999999999" text-anchor="middle">z=26</text>
<polyline points="694.6,538.2 720,520.2" stroke-width="1.1" fill="none"/>
<line x1="761.9" y1="395.1" x2="792.6" y2="395.1" stroke-width="1.3"/>
<text class="t" transform="translate(777.2,392.9) scale(0.68,1) skewX(-7)" font-size="15.959999999999999" text-anchor="middle">21</text>
<text class="t" transform="translate(777.2,408.4) scale(0.68,1) skewX(-7)" font-size="15.959999999999999" text-anchor="middle">z=57</text>
<polyline points="761.9,395.1 739.3,425.2" stroke-width="1.1" fill="none"/>
<line x1="759.8" y1="429.2" x2="793.9" y2="429.2" stroke-width="1.3"/>
<text class="t" transform="translate(776.8,427) scale(0.68,1) skewX(-7)" font-size="15.959999999999999" text-anchor="middle">20</text>
<text class="t" transform="translate(776.8,442.5) scale(0.68,1) skewX(-7)" font-size="15.959999999999999" text-anchor="middle">z=26</text>
<polyline points="759.8,429.2 742,463.8" stroke-width="1.1" fill="none"/>
<line x1="836.5" y1="445.7" x2="937.7" y2="445.7" stroke-width="1.3"/>
<text class="t" transform="translate(887.1,443.5) scale(0.68,1) skewX(-7)" font-size="15.959999999999999" text-anchor="middle">63</text>
<polyline points="836.5,445.7 790.6,494.8" stroke-width="1.1" fill="none"/>
<polygon points="932.7,444.1 937.7,445.7 932.7,447.3" stroke-width="0.9" fill="#111"/>
<text class="t" transform="translate(890.3,461.5) scale(0.68,1) skewX(-7)" font-size="15.959999999999999" text-anchor="middle">N=1,7кВт</text>
<text class="t" transform="translate(866,478.5) scale(0.68,1) skewX(-7)" font-size="15.959999999999999" text-anchor="middle">n=1420</text>
<text class="t" transform="translate(899,473.5) scale(0.68,1) skewX(-7)" font-size="13.68" text-anchor="middle">об</text>
<text class="t" transform="translate(919,478.5) scale(0.68,1) skewX(-7)" font-size="14.819999999999999" text-anchor="middle">/мин</text>
<rect x="530.4" y="138.4" width="8" height="36.1" rx="4" stroke-width="1.8" fill="#fff"/>
<line x1="532.4" y1="154.6" x2="536.8" y2="159" stroke-width="1.3"/>
<line x1="532.4" y1="159" x2="536.8" y2="154.6" stroke-width="1.3"/>
<rect x="521.6" y="167.2" width="9" height="3.6" rx="1.8" stroke-width="1.4" fill="none"/>
<line x1="538.4" y1="155.8" x2="574.1" y2="155.8" stroke-width="3.0"/>
<line x1="547" y1="153.1" x2="556.8" y2="153.1" stroke-width="1.6"/>
<line x1="547" y1="159.1" x2="556.8" y2="159.1" stroke-width="1.6"/>
<polyline points="574,155.8 574.7,156.3 575.4,156.8 576.1,157.3 576.8,157.7 577.5,158.1 578.2,158.3 578.9,158.5 579.6,158.6 580.3,158.6 581,158.4 581.7,158.2 582.4,157.9 583.1,157.5 583.8,157.1 584.5,156.6 585.2,156.1 585.9,155.6 586.6,155 587.3,154.5 588,154.1 588.7,153.7 589.4,153.4 590,153.2 590.7,153 591.4,153 592.1,153.1 592.8,153.2 593.5,153.5 594.2,153.8 594.9,154.3 595.6,154.7 596.3,155.2 597,155.8 597.7,156.3 598.4,156.8 599.1,157.3 599.8,157.7 600.5,158.1 601.2,158.3 601.9,158.5 602.6,158.6 603.3,158.6 604,158.5 604.7,158.2 605.4,157.9 606,157.6 606.7,157.1 607.4,156.6 608.1,156.1 608.8,155.6 609.5,155.1 610.2,154.6 610.9,154.1 611.6,153.7 612.3,153.4 613,153.2 613.7,153 614.4,153 615.1,153.1 615.8,153.2 616.5,153.5 617.2,153.8 617.9,154.2 618.6,154.7 619.3,155.2 620,155.7 620.7,156.3 621.4,156.8 622,157.3 622.7,157.7 623.4,158 624.1,158.3 624.8,158.5 625.5,158.6 626.2,158.6 626.9,158.5 627.6,158.3 628.3,158 629,157.6 629.7,157.2 630.4,156.7 631.1,156.2 631.8,155.6 632.5,155.1 633.2,154.6 633.9,154.1 634.6,153.7 635.3,153.4 636,153.2 636.7,153 637.4,153 638,153.1 638.7,153.2 639.4,153.5 640.1,153.8 640.8,154.2 641.5,154.7 642.2,155.2 642.9,155.7 643.6,156.2 644.3,156.7 645,157.2 645.7,157.7 646.4,158 647.1,158.3 647.8,158.5 648.5,158.6 649.2,158.6 649.9,158.5 650.6,158.3 651.3,158 652,157.6 652.7,157.2 653.3,156.7 654,156.2 654.7,155.7 655.4,155.1 656.1,154.6 656.8,154.2 657.5,153.8 658.2,153.4 658.9,153.2 659.6,153 660.3,153 661,153.1 661.7,153.2 662.4,153.4 663.1,153.8 663.8,154.2 664.5,154.6 665.2,155.1 665.9,155.7 666.6,156.2 667.3,156.7 668,157.2 668.7,157.6 669.3,158 670,158.3 670.7,158.5 671.4,158.6 672.1,158.6 672.8,158.5 673.5,158.3 674.2,158 674.9,157.6 675.6,157.2 676.3,156.7 677,156.2" stroke-width="2.6" fill="none"/>
<polyline points="677,154.7 677.7,154.1 678.4,153.6 679.1,153.1 679.8,152.6 680.5,152.2 681.2,152 681.9,151.8 682.6,151.7 683.3,151.7 684,151.9 684.7,152.1 685.4,152.5 686.1,152.9 686.8,153.4 687.5,153.9 688.2,154.5 688.9,155.1 689.6,155.7 690.3,156.2 691,156.7 691.7,157.1 692.4,157.5 693.1,157.7 693.8,157.9 694.5,157.9 695.2,157.8 695.9,157.6 696.6,157.4 697.3,157 698,156.5 698.7,156 699.4,155.5 700.1,154.9 700.8,154.3 701.5,153.8 702.2,153.2 702.9,152.8 703.6,152.4 704.3,152 704.9,151.8 705.6,151.7 706.3,151.7 707,151.8 707.7,152 708.4,152.3 709.1,152.7 709.8,153.2 710.5,153.7 711.2,154.3 711.9,154.9 712.6,155.5 713.3,156 714,156.5 714.7,157 715.4,157.4 716.1,157.6 716.8,157.8 717.5,157.9 718.2,157.9 718.9,157.7 719.6,157.5 720.3,157.1 721,156.7 721.7,156.2 722.4,155.7 723.1,155.1 723.8,154.5 724.5,153.9 725.2,153.4 725.9,152.9 726.6,152.5 727.3,152.1 728,151.9 728.7,151.7 729.4,151.7 730.1,151.8 730.8,152 731.5,152.2 732.2,152.6" stroke-width="2.6" fill="none"/>
<polyline points="732.2,155.4 732.9,156 733.6,156.7 734.3,157.3 735,157.9 735.7,158.5 736.4,158.9 737.1,159.3 737.8,159.5 738.5,159.7 739.2,159.7 739.9,159.6 740.6,159.4 741.3,159 742,158.6 742.7,158.1 743.4,157.5 744.1,156.9 744.8,156.3 745.5,155.6 746.2,155 746.9,154.4 747.6,153.9 748.3,153.4 749,153.1 749.7,152.8 750.4,152.7 751.1,152.7 751.8,152.8 752.5,153.1 753.2,153.4 753.8,153.9 754.5,154.4 755.2,155 755.9,155.6 756.6,156.3 757.3,156.9 758,157.5 758.7,158.1 759.4,158.6 760.1,159.1 760.8,159.4 761.5,159.6 762.2,159.7 762.9,159.7 763.6,159.5 764.3,159.3 765,158.9 765.7,158.4 766.4,157.9 767.1,157.3 767.8,156.7 768.5,156 769.2,155.4 769.9,154.8 770.6,154.2 771.3,153.7 772,153.3 772.7,153 773.4,152.8 774.1,152.7 774.8,152.7 775.5,152.9 776.2,153.2 776.9,153.6 777.6,154 778.3,154.6 779,155.2 779.7,155.8 780.4,156.5 781.1,157.1 781.8,157.7 782.5,158.3 783.2,158.8 783.9,159.2 784.6,159.5 785.3,159.6 786,159.7 786.7,159.6 787.4,159.5 788.1,159.2 788.8,158.8 789.5,158.3 790.2,157.7 790.9,157.1 791.6,156.4 792.3,155.8 793,155.2 793.7,154.6 794.4,154 795.1,153.5 795.8,153.2 796.5,152.9 797.1,152.7 797.8,152.7 798.5,152.8 799.2,153 799.9,153.3 800.6,153.7 801.3,154.2 802,154.8 802.7,155.4 803.4,156.1 804.1,156.7 804.8,157.4 805.5,157.9 806.2,158.5 806.9,158.9 807.6,159.3 808.3,159.5 809,159.7 809.7,159.7 810.4,159.6 811.1,159.4 811.8,159 812.5,158.6 813.2,158.1 813.9,157.5 814.6,156.9 815.3,156.2 816,155.6 816.7,154.9 817.4,154.4 818.1,153.8 818.8,153.4 819.5,153.1 820.2,152.8 820.9,152.7 821.6,152.7 822.3,152.8 823,153.1 823.7,153.4 824.4,153.9 825.1,154.4 825.8,155 826.5,155.6 827.2,156.3 827.9,156.9 828.6,157.6 829.3,158.1 830,158.6 830.7,159.1 831.4,159.4 832.1,159.6 832.8,159.7 833.5,159.7 834.2,159.5 834.9,159.3 835.6,158.9 836.3,158.4 837,157.9 837.7,157.3 838.4,156.6 839.1,156 839.7,155.3 840.4,154.7 841.1,154.2 841.8,153.7 842.5,153.3 843.2,153 843.9,152.8 844.6,152.7 845.3,152.8 846,152.9 846.7,153.2 847.4,153.6 848.1,154.1 848.8,154.6 849.5,155.2 850.2,155.9 850.9,156.5 851.6,157.2 852.3,157.8 853,158.3 853.7,158.8 854.4,159.2 855.1,159.5 855.8,159.6 856.5,159.7 857.2,159.6 857.9,159.4 858.6,159.1 859.3,158.7 860,158.2 860.7,157.7 861.4,157.1 862.1,156.4 862.8,155.8 863.5,155.1 864.2,154.5 864.9,154 865.6,153.5 866.3,153.1 867,152.9 867.7,152.7 868.4,152.7 869.1,152.8 869.8,153 870.5,153.3 871.2,153.8 871.9,154.3 872.6,154.8 873.3,155.5 874,156.1 874.7,156.8 875.4,157.4 876.1,158 876.8,158.5 877.5,159 878.2,159.3 878.9,159.6 879.6,159.7 880.3,159.7 881,159.6 881.7,159.3 882.4,159 883,158.6 883.7,158 884.4,157.5 885.1,156.8 885.8,156.2 886.5,155.5 887.2,154.9 887.9,154.3 888.6,153.8 889.3,153.4 890,153 890.7,152.8 891.4,152.7 892.1,152.7 892.8,152.9 893.5,153.1 894.2,153.5 894.9,153.9 895.6,154.5 896.3,155 897,155.7 897.7,156.3 898.4,157 899.1,157.6 899.8,158.2 900.5,158.7 901.2,159.1 901.9,159.4 902.6,159.6 903.3,159.7 904,159.7" stroke-width="2.6" fill="none"/>
<line x1="904" y1="158" x2="957" y2="158" stroke-width="3.0"/>
<line x1="943" y1="154.7" x2="954" y2="154.7" stroke-width="1.6"/>
<line x1="943" y1="161.3" x2="954" y2="161.3" stroke-width="1.6"/>
<path d="M626.5,152.8 Q637.8,144.5 649,152.8 M633,157.8 Q637.8,153.8 642,157.5" stroke-width="1.3" fill="none"/>
<line x1="592" y1="139" x2="896" y2="138.8" stroke-width="1.5" stroke-dasharray="14,6"/>
<line x1="902.4" y1="135.4" x2="905.9" y2="147.5" stroke-width="1.9"/>
<line x1="908" y1="135.4" x2="900.2" y2="147.5" stroke-width="1.9"/>
<line x1="910.6" y1="135.4" x2="908.6" y2="147.5" stroke-width="1.9"/>
<line x1="914.2" y1="135.4" x2="912.2" y2="147.5" stroke-width="1.9"/>
<line x1="901" y1="135.4" x2="916.5" y2="135.4" stroke-width="1.6"/>
<line x1="899" y1="147.5" x2="914.5" y2="147.5" stroke-width="1.6"/>
<line x1="897.7" y1="149.9" x2="917.2" y2="149.9" stroke-width="1.3"/>
<polyline points="917.2,149.9 914.9,158.7" stroke-width="1.1" fill="none"/>
<polyline points="677.3,151.4 732.2,151.4 732.2,162.3 677.3,162.3" stroke-width="1.8" fill="none"/>
<polygon points="669,150.3 676.4,144.8 676.4,170.6 669,167.8" stroke-width="1.6" fill="#fff"/>
<polygon points="649.7,170.6 675.5,170.6 670,164.1 655.2,164.1" stroke-width="1.6" fill="#fff"/>
<rect x="690.2" y="134.3" width="9.8" height="17.1" stroke-width="1.8" fill="none"/>
<line x1="690.2" y1="139" x2="700" y2="139" stroke-width="1.4"/>
<line x1="690.2" y1="143.1" x2="700" y2="143.1" stroke-width="1.4"/>
<rect x="690.2" y="162.3" width="9.8" height="12.4" stroke-width="1.8" fill="none"/>
<polyline points="699.4,145.7 705.8,151.3 699.4,151.3" stroke-width="1.3" fill="none"/>
<polyline points="699.4,163.2 705.8,168.5 699.4,168.5" stroke-width="1.3" fill="none"/>
<rect x="712.6" y="145.7" width="9.8" height="5.6" stroke-width="1.6" fill="none"/>
<rect x="712.5" y="162.3" width="10.3" height="24.9" stroke-width="2.0" fill="none"/>
<line x1="712.5" y1="171.1" x2="722.8" y2="171.1" stroke-width="1.6"/>
<line x1="715.3" y1="177.4" x2="719.9" y2="182" stroke-width="1.3"/>
<line x1="715.3" y1="182" x2="719.9" y2="177.4" stroke-width="1.3"/>
<line x1="663" y1="170.6" x2="663" y2="205" stroke-width="3"/>
<line x1="659.9" y1="173" x2="659.9" y2="182.6" stroke-width="1.2"/>
<line x1="666.6" y1="173" x2="666.6" y2="182.6" stroke-width="1.2"/>
<line x1="659.9" y1="193.7" x2="659.9" y2="200.3" stroke-width="1.2"/>
<line x1="666.6" y1="193.7" x2="666.6" y2="200.3" stroke-width="1.2"/>
<polygon points="651,204.4 677.3,204.4 668.4,213.3 658.2,213.3" stroke-width="1.8" fill="#fff"/>
<line x1="661" y1="206.8" x2="665" y2="210.8" stroke-width="1.3"/>
<line x1="661" y1="210.8" x2="665" y2="206.8" stroke-width="1.3"/>
<polygon points="668.4,213.3 677.7,204.4 677.7,231 668.4,223.1" stroke-width="1.8" fill="#fff"/>
<line x1="671" y1="215" x2="675" y2="219" stroke-width="1.3"/>
<line x1="671" y1="219" x2="675" y2="215" stroke-width="1.3"/>
<line x1="677.7" y1="216.1" x2="798.5" y2="216.1" stroke-width="3.0"/>
<line x1="680.4" y1="212.8" x2="690.5" y2="212.8" stroke-width="1.6"/>
<line x1="680.4" y1="219.4" x2="690.5" y2="219.4" stroke-width="1.6"/>
<line x1="783.9" y1="212.8" x2="794" y2="212.8" stroke-width="1.6"/>
<line x1="783.9" y1="219.4" x2="794" y2="219.4" stroke-width="1.6"/>
<line x1="601.8" y1="104.3" x2="630.4" y2="104.3" stroke-width="1.3"/>
<text class="t" transform="translate(616.1,102.1) scale(0.68,1) skewX(-7)" font-size="15.959999999999999" text-anchor="middle">45</text>
<text class="t" transform="translate(616.1,117.6) scale(0.68,1) skewX(-7)" font-size="15.959999999999999" text-anchor="middle">z=18</text>
<polyline points="630.4,104.3 655.2,162.3" stroke-width="1.1" fill="none"/>
<line x1="642.3" y1="104.3" x2="671.8" y2="104.3" stroke-width="1.3"/>
<text class="t" transform="translate(657,102.1) scale(0.68,1) skewX(-7)" font-size="15.959999999999999" text-anchor="middle">46</text>
<text class="t" transform="translate(657,117.6) scale(0.68,1) skewX(-7)" font-size="15.959999999999999" text-anchor="middle">z=18</text>
<polyline points="671.8,104.3 672.2,148.5" stroke-width="1.1" fill="none"/>
<line x1="524" y1="105.7" x2="545" y2="105.7" stroke-width="1.3"/>
<text class="t" transform="translate(534.5,102.2) scale(0.68,1) skewX(-7)" font-size="15.959999999999999" text-anchor="middle">54</text>
<polyline points="545,105.7 586.5,154.5" stroke-width="1.1" fill="none"/>
<line x1="564" y1="105.7" x2="586" y2="105.7" stroke-width="1.3"/>
<text class="t" transform="translate(575,102.2) scale(0.68,1) skewX(-7)" font-size="15.959999999999999" text-anchor="middle">55</text>
<polyline points="586,105.7 634,151.3" stroke-width="1.1" fill="none"/>
<text class="t" transform="translate(523,128) scale(0.68,1) skewX(-7)" font-size="17.099999999999998" text-anchor="middle">t</text>
<text class="t" transform="translate(530,131) scale(0.68,1) skewX(-7)" font-size="13.68" text-anchor="middle">в</text>
<text class="t" transform="translate(541,128) scale(0.68,1) skewX(-7)" font-size="15.959999999999999" text-anchor="middle">=6</text>
<line x1="684.7" y1="104.3" x2="718.7" y2="104.3" stroke-width="1.3"/>
<text class="t" transform="translate(701.7,102.1) scale(0.68,1) skewX(-7)" font-size="15.959999999999999" text-anchor="middle">61</text>
<text class="t" transform="translate(701.7,117.6) scale(0.68,1) skewX(-7)" font-size="15.959999999999999" text-anchor="middle">z=15</text>
<polyline points="684.7,104.3 691.1,131.9" stroke-width="1.1" fill="none"/>
<line x1="728.8" y1="104.3" x2="756.4" y2="104.3" stroke-width="1.3"/>
<text class="t" transform="translate(742.6,102.1) scale(0.68,1) skewX(-7)" font-size="15.959999999999999" text-anchor="middle">62</text>
<text class="t" transform="translate(742.6,117.6) scale(0.68,1) skewX(-7)" font-size="15.959999999999999" text-anchor="middle">z=30</text>
<polyline points="728.8,104.3 693.9,169.7" stroke-width="1.1" fill="none"/>
<line x1="768.2" y1="104.2" x2="799.5" y2="104.2" stroke-width="1.3"/>
<text class="t" transform="translate(783.9,102) scale(0.68,1) skewX(-7)" font-size="15.959999999999999" text-anchor="middle">74</text>
<text class="t" transform="translate(783.9,117.5) scale(0.68,1) skewX(-7)" font-size="15.959999999999999" text-anchor="middle">z=50</text>
<polyline points="768.2,104.2 722.4,147.6" stroke-width="1.1" fill="none"/>
<line x1="810.9" y1="104.2" x2="825" y2="104.2" stroke-width="1.3"/>
<text class="t" transform="translate(818,102) scale(0.68,1) skewX(-7)" font-size="15.959999999999999" text-anchor="middle">68</text>
<polyline points="825,104.2 819.4,138.8" stroke-width="1.1" fill="none"/>
<line x1="850.7" y1="103.3" x2="881.9" y2="103.3" stroke-width="1.3"/>
<text class="t" transform="translate(866.3,101.1) scale(0.68,1) skewX(-7)" font-size="15.959999999999999" text-anchor="middle">47</text>
<text class="t" transform="translate(866.3,116.6) scale(0.68,1) skewX(-7)" font-size="15.959999999999999" text-anchor="middle">z=33</text>
<polyline points="850.7,103.3 805.2,188" stroke-width="1.1" fill="none"/>
<line x1="941.6" y1="103.3" x2="968.6" y2="103.3" stroke-width="1.3"/>
<text class="t" transform="translate(955.1,101.1) scale(0.68,1) skewX(-7)" font-size="15.959999999999999" text-anchor="middle">72</text>
<text class="t" transform="translate(955.1,116.6) scale(0.68,1) skewX(-7)" font-size="15.959999999999999" text-anchor="middle">z=18</text>
<polyline points="941.6,103.3 921.7,171" stroke-width="1.1" fill="none"/>
<line x1="750.4" y1="174.3" x2="762.8" y2="174.3" stroke-width="1.3"/>
<text class="t" transform="translate(756.6,172.4) scale(0.68,1) skewX(-7)" font-size="15.959999999999999" text-anchor="middle">57</text>
<polyline points="750.4,174.3 752.2,193.1" stroke-width="1.1" fill="none"/>
<line x1="784.4" y1="174.3" x2="799.6" y2="174.3" stroke-width="1.3"/>
<text class="t" transform="translate(792,172) scale(0.68,1) skewX(-7)" font-size="15.959999999999999" text-anchor="middle">56</text>
<polyline points="784.4,174.3 775.2,195.4" stroke-width="1.1" fill="none"/>
<polyline points="729.2,195.6 729.9,195.6 730.6,195.5 731.3,195.4 732,195.2 732.7,194.9 733.4,194.6 734.1,194.3 734.8,193.9 735.5,193.5 736.2,193.1 736.9,192.7 737.6,192.4 738.3,192 738.9,191.8 739.6,191.6 740.3,191.5 741,191.4 741.7,191.4 742.4,191.5 743.1,191.7 743.8,191.9 744.5,192.2 745.2,192.5 745.9,192.9 746.6,193.3 747.3,193.7 748,194.1 748.7,194.5 749.4,194.8 750.1,195.1 750.8,195.3 751.5,195.5 752.2,195.6 752.9,195.6 753.6,195.5 754.3,195.4 755,195.2 755.7,194.9 756.4,194.6 757.1,194.3 757.8,193.9 758.4,193.5 759.1,193.1 759.8,192.7 760.5,192.4 761.2,192.1 761.9,191.8 762.6,191.6 763.3,191.5 764,191.4 764.7,191.4 765.4,191.5 766.1,191.7 766.8,191.9 767.5,192.2 768.2,192.5 768.9,192.9 769.6,193.3 770.3,193.7 771,194.1 771.7,194.5 772.4,194.8 773.1,195.1 773.8,195.3 774.5,195.5 775.2,195.6 775.9,195.6 776.6,195.5 777.3,195.4 777.9,195.2 778.6,195 779.3,194.6 780,194.3 780.7,193.9 781.4,193.5 782.1,193.1 782.8,192.7 783.5,192.4 784.2,192.1 784.9,191.8 785.6,191.6 786.3,191.5 787,191.4" stroke-width="2.6" fill="none"/>
<line x1="787" y1="193.6" x2="798.5" y2="193.6" stroke-width="3.0"/>
<line x1="791.8" y1="190.4" x2="798.5" y2="190.4" stroke-width="1.6"/>
<line x1="791.8" y1="196.8" x2="798.5" y2="196.8" stroke-width="1.6"/>
<path d="M745.8,196.5 Q752.7,202 759.6,196.5 M745,198 Q752.7,205 760.5,198" stroke-width="1.2" fill="none"/>
<text class="t" transform="translate(747.5,210) scale(0.68,1) skewX(-7)" font-size="17.099999999999998" text-anchor="middle">t</text>
<text class="t" transform="translate(754,212.5) scale(0.68,1) skewX(-7)" font-size="12.54" text-anchor="middle">в</text>
<text class="t" transform="translate(765.5,210) scale(0.68,1) skewX(-7)" font-size="15.959999999999999" text-anchor="middle">=6</text>
<line x1="682.6" y1="198.8" x2="719.7" y2="198.8" stroke-width="1.3"/>
<text class="t" transform="translate(701.2,196.6) scale(0.68,1) skewX(-7)" font-size="15.959999999999999" text-anchor="middle">73</text>
<text class="t" transform="translate(701.2,212.1) scale(0.68,1) skewX(-7)" font-size="15.959999999999999" text-anchor="middle">z=25</text>
<polyline points="719.7,198.8 718.6,186.9" stroke-width="1.1" fill="none"/>
<line x1="614" y1="198.1" x2="647.7" y2="198.1" stroke-width="1.3"/>
<text class="t" transform="translate(630.9,195.9) scale(0.68,1) skewX(-7)" font-size="15.959999999999999" text-anchor="middle">44</text>
<text class="t" transform="translate(630.9,211.4) scale(0.68,1) skewX(-7)" font-size="15.959999999999999" text-anchor="middle">z=16</text>
<polyline points="647.7,198.1 660,208.2" stroke-width="1.1" fill="none"/>
<line x1="635.4" y1="223.5" x2="659" y2="223.5" stroke-width="1.3"/>
<text class="t" transform="translate(647.2,221.3) scale(0.68,1) skewX(-7)" font-size="15.959999999999999" text-anchor="middle">43</text>
<text class="t" transform="translate(647.2,236.8) scale(0.68,1) skewX(-7)" font-size="15.959999999999999" text-anchor="middle">z=19</text>
<line x1="723" y1="179" x2="920" y2="178.5" stroke-width="3.0"/>
<line x1="728" y1="175.7" x2="738" y2="175.7" stroke-width="1.6"/>
<line x1="728" y1="182.3" x2="738" y2="182.3" stroke-width="1.6"/>
<line x1="903" y1="175.4" x2="913" y2="175.4" stroke-width="1.6"/>
<line x1="903" y1="182" x2="913" y2="182" stroke-width="1.6"/>
<rect x="798.5" y="183.5" width="10.1" height="87.7" stroke-width="2.0" fill="none"/>
<line x1="798.5" y1="203.7" x2="808.6" y2="203.7" stroke-width="1.6"/>
<line x1="798.5" y1="226.2" x2="808.6" y2="226.2" stroke-width="1.6"/>
<line x1="798.5" y1="249.2" x2="808.6" y2="249.2" stroke-width="1.6"/>
<line x1="800.9" y1="213.5" x2="806.1" y2="218.7" stroke-width="1.3"/>
<line x1="800.9" y1="218.7" x2="806.1" y2="213.5" stroke-width="1.3"/>
<line x1="800.9" y1="256.9" x2="806.1" y2="262.1" stroke-width="1.3"/>
<line x1="800.9" y1="262.1" x2="806.1" y2="256.9" stroke-width="1.3"/>
<line x1="801" y1="192.5" x2="806" y2="192.5" stroke-width="1.2"/>
<line x1="801" y1="237.5" x2="806" y2="237.5" stroke-width="1.2"/>
<polyline points="808.5,185.4 814,185.4 820,189.5 814,193.5 820,197.6 814,201.6 808.5,201.6" stroke-width="1.5" fill="none"/>
<polyline points="822,185.4 816.5,189.5 822,193.5 816.5,197.6 822,201.6" stroke-width="1.5" fill="none"/>
<line x1="822" y1="184.9" x2="822" y2="202.1" stroke-width="1.8"/>
<polyline points="808.5,229 814,229 820,233.1 814,237.1 820,241.2 814,245.2 808.5,245.2" stroke-width="1.5" fill="none"/>
<polyline points="822,229 816.5,233.1 822,237.1 816.5,241.2 822,245.2" stroke-width="1.5" fill="none"/>
<line x1="822" y1="228.5" x2="822" y2="245.7" stroke-width="1.8"/>
<line x1="822" y1="194" x2="838" y2="194" stroke-width="1.8"/>
<line x1="824" y1="190.6" x2="834.4" y2="190.6" stroke-width="1.3"/>
<line x1="824" y1="197.3" x2="834.4" y2="197.3" stroke-width="1.3"/>
<rect x="838" y="181.7" width="6.7" height="22.1" rx="3.3" stroke-width="1.7" fill="#fff"/>
<rect x="844.7" y="186.6" width="8.9" height="3.4" rx="1.7" stroke-width="1.4" fill="none"/>
<line x1="822" y1="237.9" x2="841" y2="237.9" stroke-width="1.8"/>
<line x1="824" y1="234.9" x2="834.4" y2="234.9" stroke-width="1.3"/>
<line x1="824" y1="240.6" x2="834.4" y2="240.6" stroke-width="1.3"/>
<rect x="841" y="232.7" width="4.5" height="11.8" stroke-width="1.6" fill="none"/>
<line x1="842.5" y1="244.5" x2="842.5" y2="264" stroke-width="1.8"/>
<rect x="842" y="263.8" width="5.5" height="5.2" rx="1.2" stroke-width="1.4" fill="#fff"/>
<path d="M920,167.5 L922,167.5 Q926.7,170 926.7,176.6 Q926.7,183 922,185.7 L920,185.7 Z" stroke-width="1.6" fill="#fff"/>
<polygon points="920,186.9 926,180.1 934,180.1 939.1,186.9" stroke-width="1.6" fill="#fff"/>
<line x1="929" y1="187" x2="929" y2="224" stroke-width="2.2"/>
<line x1="925.6" y1="191.4" x2="925.6" y2="198.1" stroke-width="1.2"/>
<line x1="932.3" y1="191.4" x2="932.3" y2="198.1" stroke-width="1.2"/>
<line x1="925.6" y1="211.6" x2="925.6" y2="219.5" stroke-width="1.2"/>
<line x1="932.3" y1="211.6" x2="932.3" y2="219.5" stroke-width="1.2"/>
<rect x="918.9" y="223.5" width="21.3" height="5.5" rx="2.7" stroke-width="1.6" fill="#fff"/>
<rect x="933.5" y="229" width="4.5" height="8" rx="2.2" stroke-width="1.4" fill="#fff"/>
<line x1="937.7" y1="203.4" x2="967.7" y2="203.4" stroke-width="1.3"/>
<text class="t" transform="translate(952.7,201.2) scale(0.68,1) skewX(-7)" font-size="15.959999999999999" text-anchor="middle">71</text>
<text class="t" transform="translate(952.7,216.7) scale(0.68,1) skewX(-7)" font-size="15.959999999999999" text-anchor="middle">z=24</text>
<polyline points="937.7,203.4 934.2,187" stroke-width="1.1" fill="none"/>
<line x1="849.7" y1="214.7" x2="874.5" y2="214.7" stroke-width="1.3"/>
<text class="t" transform="translate(867.8,212.5) scale(0.68,1) skewX(-7)" font-size="15.959999999999999" text-anchor="middle">65</text>
<polyline points="849.7,214.7 817.6,195.9" stroke-width="1.1" fill="none"/>
<line x1="854.8" y1="240.1" x2="889" y2="240.1" stroke-width="1.3"/>
<text class="t" transform="translate(871.5,237.9) scale(0.68,1) skewX(-7)" font-size="15.959999999999999" text-anchor="middle">42</text>
<text class="t" transform="translate(871.5,253.4) scale(0.68,1) skewX(-7)" font-size="15.959999999999999" text-anchor="middle">z=27</text>
<polyline points="854.8,240.1 806.4,206" stroke-width="1.1" fill="none"/>
<line x1="850.7" y1="285.1" x2="876.6" y2="285.1" stroke-width="1.3"/>
<text class="t" transform="translate(867.8,282.9) scale(0.68,1) skewX(-7)" font-size="15.959999999999999" text-anchor="middle">70</text>
<polyline points="850.7,285.1 818.7,245.4" stroke-width="1.1" fill="none"/>
<line x1="849.7" y1="313" x2="881.8" y2="313" stroke-width="1.3"/>
<text class="t" transform="translate(867.8,310.8) scale(0.68,1) skewX(-7)" font-size="15.959999999999999" text-anchor="middle">40</text>
<text class="t" transform="translate(867.8,326.3) scale(0.68,1) skewX(-7)" font-size="15.959999999999999" text-anchor="middle">z=18</text>
<polyline points="849.7,313 807.5,260" stroke-width="1.1" fill="none"/>
<line x1="760.2" y1="277.5" x2="790.6" y2="277.5" stroke-width="1.3"/>
<text class="t" transform="translate(775.4,275.3) scale(0.68,1) skewX(-7)" font-size="15.959999999999999" text-anchor="middle">41</text>
<text class="t" transform="translate(775.4,290.8) scale(0.68,1) skewX(-7)" font-size="15.959999999999999" text-anchor="middle">z=33</text>
<polyline points="790.6,277.5 796.2,263.4" stroke-width="1.1" fill="none"/>
</g></svg></body></html>
